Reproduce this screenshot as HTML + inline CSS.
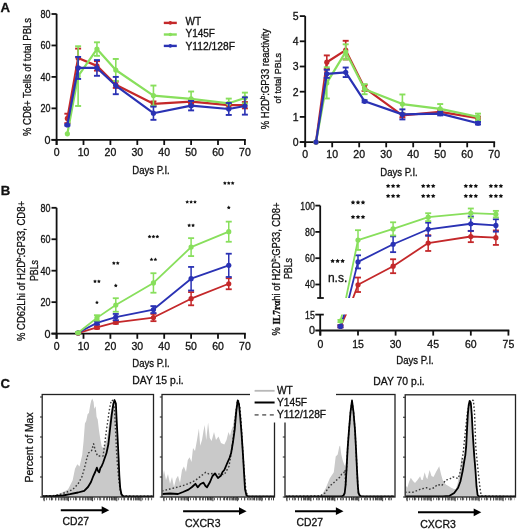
<!DOCTYPE html>
<html><head><meta charset="utf-8"><style>
html,body{margin:0;padding:0;background:#fff;overflow:hidden}
svg{display:block;will-change:transform}
text{font-family:"Liberation Sans", sans-serif;stroke:#111;stroke-width:0.3px}
</style></head><body>
<svg width="520" height="531" viewBox="0 0 520 531">
<rect width="520" height="531" fill="#fff"/>
<text x="0.6" y="12.1" font-size="13.2" text-anchor="start" font-weight="bold" fill="#111" style='font-family:"Liberation Sans", sans-serif'>A</text>
<text x="0.8" y="194.9" font-size="13.2" text-anchor="start" font-weight="bold" fill="#111" style='font-family:"Liberation Sans", sans-serif'>B</text>
<text x="0.6" y="388.1" font-size="13.2" text-anchor="start" font-weight="bold" fill="#111" style='font-family:"Liberation Sans", sans-serif'>C</text>
<line x1="56.60" y1="13.80" x2="56.60" y2="145.00" stroke="#111" stroke-width="1.8" />
<line x1="51.50" y1="139.80" x2="245.80" y2="139.80" stroke="#111" stroke-width="1.8" />
<line x1="51.50" y1="139.80" x2="56.60" y2="139.80" stroke="#111" stroke-width="1.8" />
<text x="50.6" y="143.70000000000002" font-size="10.8" text-anchor="end" font-weight="normal" fill="#111" style='font-family:"Liberation Sans", sans-serif'>0</text>
<line x1="51.50" y1="108.35" x2="56.60" y2="108.35" stroke="#111" stroke-width="1.8" />
<text x="50.6" y="112.25000000000001" font-size="10.8" text-anchor="end" font-weight="normal" fill="#111" textLength="10.0" lengthAdjust="spacingAndGlyphs" style='font-family:"Liberation Sans", sans-serif'>20</text>
<line x1="51.50" y1="76.90" x2="56.60" y2="76.90" stroke="#111" stroke-width="1.8" />
<text x="50.6" y="80.80000000000001" font-size="10.8" text-anchor="end" font-weight="normal" fill="#111" textLength="10.0" lengthAdjust="spacingAndGlyphs" style='font-family:"Liberation Sans", sans-serif'>40</text>
<line x1="51.50" y1="45.45" x2="56.60" y2="45.45" stroke="#111" stroke-width="1.8" />
<text x="50.6" y="49.350000000000016" font-size="10.8" text-anchor="end" font-weight="normal" fill="#111" textLength="10.0" lengthAdjust="spacingAndGlyphs" style='font-family:"Liberation Sans", sans-serif'>60</text>
<line x1="51.50" y1="14.00" x2="56.60" y2="14.00" stroke="#111" stroke-width="1.8" />
<text x="50.6" y="17.900000000000013" font-size="10.8" text-anchor="end" font-weight="normal" fill="#111" textLength="10.0" lengthAdjust="spacingAndGlyphs" style='font-family:"Liberation Sans", sans-serif'>80</text>
<line x1="56.60" y1="139.80" x2="56.60" y2="145.00" stroke="#111" stroke-width="1.8" />
<text x="56.6" y="156.2" font-size="10.5" text-anchor="middle" font-weight="normal" fill="#111" style='font-family:"Liberation Sans", sans-serif'>0</text>
<line x1="83.50" y1="139.80" x2="83.50" y2="145.00" stroke="#111" stroke-width="1.8" />
<text x="83.5" y="156.2" font-size="10.5" text-anchor="middle" font-weight="normal" fill="#111" style='font-family:"Liberation Sans", sans-serif'>10</text>
<line x1="110.40" y1="139.80" x2="110.40" y2="145.00" stroke="#111" stroke-width="1.8" />
<text x="110.4" y="156.2" font-size="10.5" text-anchor="middle" font-weight="normal" fill="#111" style='font-family:"Liberation Sans", sans-serif'>20</text>
<line x1="137.30" y1="139.80" x2="137.30" y2="145.00" stroke="#111" stroke-width="1.8" />
<text x="137.3" y="156.2" font-size="10.5" text-anchor="middle" font-weight="normal" fill="#111" style='font-family:"Liberation Sans", sans-serif'>30</text>
<line x1="164.20" y1="139.80" x2="164.20" y2="145.00" stroke="#111" stroke-width="1.8" />
<text x="164.2" y="156.2" font-size="10.5" text-anchor="middle" font-weight="normal" fill="#111" style='font-family:"Liberation Sans", sans-serif'>40</text>
<line x1="191.10" y1="139.80" x2="191.10" y2="145.00" stroke="#111" stroke-width="1.8" />
<text x="191.1" y="156.2" font-size="10.5" text-anchor="middle" font-weight="normal" fill="#111" style='font-family:"Liberation Sans", sans-serif'>50</text>
<line x1="218.00" y1="139.80" x2="218.00" y2="145.00" stroke="#111" stroke-width="1.8" />
<text x="218.0" y="156.2" font-size="10.5" text-anchor="middle" font-weight="normal" fill="#111" style='font-family:"Liberation Sans", sans-serif'>60</text>
<line x1="244.90" y1="139.80" x2="244.90" y2="145.00" stroke="#111" stroke-width="1.8" />
<text x="244.89999999999998" y="156.2" font-size="10.5" text-anchor="middle" font-weight="normal" fill="#111" style='font-family:"Liberation Sans", sans-serif'>70</text>
<text x="151" y="173.6" font-size="10" text-anchor="middle" font-weight="normal" fill="#111" textLength="37.5" lengthAdjust="spacingAndGlyphs" style='font-family:"Liberation Sans", sans-serif'>Days P.I.</text>
<text x="30.5" y="77" font-size="10" text-anchor="middle" font-weight="normal" fill="#111" transform="rotate(-90 30.5 77)" textLength="118" lengthAdjust="spacingAndGlyphs" style='font-family:"Liberation Sans", sans-serif'>% CD8+ Tcells of total PBLs</text>
<line x1="163.80" y1="22.90" x2="176.80" y2="22.90" stroke="#c4282a" stroke-width="2.4" />
<circle cx="170.3" cy="22.9" r="1.8" fill="#c4282a"/>
<text x="185.5" y="24.8" font-size="10" text-anchor="start" font-weight="normal" fill="#111" style='font-family:"Liberation Sans", sans-serif'>WT</text>
<line x1="163.80" y1="34.50" x2="176.80" y2="34.50" stroke="#88df5c" stroke-width="2.4" />
<circle cx="170.3" cy="34.5" r="1.8" fill="#88df5c"/>
<text x="185.5" y="37.2" font-size="10" text-anchor="start" font-weight="normal" fill="#111" style='font-family:"Liberation Sans", sans-serif'>Y145F</text>
<line x1="163.80" y1="45.90" x2="176.80" y2="45.90" stroke="#2a32b4" stroke-width="2.4" />
<circle cx="170.3" cy="45.9" r="1.8" fill="#2a32b4"/>
<text x="185.5" y="49.5" font-size="10" text-anchor="start" font-weight="normal" fill="#111" textLength="49.5" lengthAdjust="spacingAndGlyphs" style='font-family:"Liberation Sans", sans-serif'>Y112/128F</text>
<g>
<polyline points="67.36,118.41 78.12,58.03 96.95,65.89 115.78,84.76 153.44,103.79 191.10,101.59 228.76,105.21 244.90,105.21" fill="none" stroke="#c4282a" stroke-width="2.2" stroke-linejoin="round" />
<line x1="67.36" y1="113.70" x2="67.36" y2="123.13" stroke="#c4282a" stroke-width="1.6" />
<line x1="64.36" y1="113.70" x2="70.36" y2="113.70" stroke="#c4282a" stroke-width="1.9000000000000001" />
<line x1="64.36" y1="123.13" x2="70.36" y2="123.13" stroke="#c4282a" stroke-width="1.9000000000000001" />
<circle cx="67.36" cy="118.41" r="2.6" fill="#c4282a"/>
<line x1="78.12" y1="48.60" x2="78.12" y2="67.47" stroke="#c4282a" stroke-width="1.6" />
<line x1="75.12" y1="48.60" x2="81.12" y2="48.60" stroke="#c4282a" stroke-width="1.9000000000000001" />
<line x1="75.12" y1="67.47" x2="81.12" y2="67.47" stroke="#c4282a" stroke-width="1.9000000000000001" />
<circle cx="78.12" cy="58.03" r="2.6" fill="#c4282a"/>
<line x1="96.95" y1="61.18" x2="96.95" y2="70.61" stroke="#c4282a" stroke-width="1.6" />
<line x1="93.95" y1="61.18" x2="99.95" y2="61.18" stroke="#c4282a" stroke-width="1.9000000000000001" />
<line x1="93.95" y1="70.61" x2="99.95" y2="70.61" stroke="#c4282a" stroke-width="1.9000000000000001" />
<circle cx="96.95" cy="65.89" r="2.6" fill="#c4282a"/>
<line x1="115.78" y1="81.62" x2="115.78" y2="87.91" stroke="#c4282a" stroke-width="1.6" />
<line x1="112.78" y1="81.62" x2="118.78" y2="81.62" stroke="#c4282a" stroke-width="1.9000000000000001" />
<line x1="112.78" y1="87.91" x2="118.78" y2="87.91" stroke="#c4282a" stroke-width="1.9000000000000001" />
<circle cx="115.78" cy="84.76" r="2.6" fill="#c4282a"/>
<line x1="153.44" y1="101.43" x2="153.44" y2="106.15" stroke="#c4282a" stroke-width="1.6" />
<line x1="150.44" y1="101.43" x2="156.44" y2="101.43" stroke="#c4282a" stroke-width="1.9000000000000001" />
<line x1="150.44" y1="106.15" x2="156.44" y2="106.15" stroke="#c4282a" stroke-width="1.9000000000000001" />
<circle cx="153.44" cy="103.79" r="2.6" fill="#c4282a"/>
<line x1="191.10" y1="99.23" x2="191.10" y2="103.95" stroke="#c4282a" stroke-width="1.6" />
<line x1="188.10" y1="99.23" x2="194.10" y2="99.23" stroke="#c4282a" stroke-width="1.9000000000000001" />
<line x1="188.10" y1="103.95" x2="194.10" y2="103.95" stroke="#c4282a" stroke-width="1.9000000000000001" />
<circle cx="191.10" cy="101.59" r="2.6" fill="#c4282a"/>
<line x1="228.76" y1="102.85" x2="228.76" y2="107.56" stroke="#c4282a" stroke-width="1.6" />
<line x1="225.76" y1="102.85" x2="231.76" y2="102.85" stroke="#c4282a" stroke-width="1.9000000000000001" />
<line x1="225.76" y1="107.56" x2="231.76" y2="107.56" stroke="#c4282a" stroke-width="1.9000000000000001" />
<circle cx="228.76" cy="105.21" r="2.6" fill="#c4282a"/>
<line x1="244.90" y1="102.06" x2="244.90" y2="108.35" stroke="#c4282a" stroke-width="1.6" />
<line x1="241.90" y1="102.06" x2="247.90" y2="102.06" stroke="#c4282a" stroke-width="1.9000000000000001" />
<line x1="241.90" y1="108.35" x2="247.90" y2="108.35" stroke="#c4282a" stroke-width="1.9000000000000001" />
<circle cx="244.90" cy="105.21" r="2.6" fill="#c4282a"/>
</g>
<g>
<polyline points="67.36,133.82 78.12,76.11 96.95,49.07 115.78,69.98 153.44,95.61 191.10,98.92 228.76,103.32 244.90,97.97" fill="none" stroke="#88df5c" stroke-width="2.2" stroke-linejoin="round" />
<circle cx="67.36" cy="133.82" r="2.6" fill="#88df5c"/>
<line x1="78.12" y1="46.24" x2="78.12" y2="105.99" stroke="#88df5c" stroke-width="1.6" />
<line x1="75.12" y1="46.24" x2="81.12" y2="46.24" stroke="#88df5c" stroke-width="1.9000000000000001" />
<line x1="75.12" y1="105.99" x2="81.12" y2="105.99" stroke="#88df5c" stroke-width="1.9000000000000001" />
<circle cx="78.12" cy="76.11" r="2.6" fill="#88df5c"/>
<line x1="96.95" y1="42.31" x2="96.95" y2="55.83" stroke="#88df5c" stroke-width="1.6" />
<line x1="93.95" y1="42.31" x2="99.95" y2="42.31" stroke="#88df5c" stroke-width="1.9000000000000001" />
<line x1="93.95" y1="55.83" x2="99.95" y2="55.83" stroke="#88df5c" stroke-width="1.9000000000000001" />
<circle cx="96.95" cy="49.07" r="2.6" fill="#88df5c"/>
<line x1="115.78" y1="58.97" x2="115.78" y2="80.99" stroke="#88df5c" stroke-width="1.6" />
<line x1="112.78" y1="58.97" x2="118.78" y2="58.97" stroke="#88df5c" stroke-width="1.9000000000000001" />
<line x1="112.78" y1="80.99" x2="118.78" y2="80.99" stroke="#88df5c" stroke-width="1.9000000000000001" />
<circle cx="115.78" cy="69.98" r="2.6" fill="#88df5c"/>
<line x1="153.44" y1="85.55" x2="153.44" y2="105.68" stroke="#88df5c" stroke-width="1.6" />
<line x1="150.44" y1="85.55" x2="156.44" y2="85.55" stroke="#88df5c" stroke-width="1.9000000000000001" />
<line x1="150.44" y1="105.68" x2="156.44" y2="105.68" stroke="#88df5c" stroke-width="1.9000000000000001" />
<circle cx="153.44" cy="95.61" r="2.6" fill="#88df5c"/>
<line x1="191.10" y1="91.52" x2="191.10" y2="106.31" stroke="#88df5c" stroke-width="1.6" />
<line x1="188.10" y1="91.52" x2="194.10" y2="91.52" stroke="#88df5c" stroke-width="1.9000000000000001" />
<line x1="188.10" y1="106.31" x2="194.10" y2="106.31" stroke="#88df5c" stroke-width="1.9000000000000001" />
<circle cx="191.10" cy="98.92" r="2.6" fill="#88df5c"/>
<line x1="228.76" y1="98.60" x2="228.76" y2="108.04" stroke="#88df5c" stroke-width="1.6" />
<line x1="225.76" y1="98.60" x2="231.76" y2="98.60" stroke="#88df5c" stroke-width="1.9000000000000001" />
<line x1="225.76" y1="108.04" x2="231.76" y2="108.04" stroke="#88df5c" stroke-width="1.9000000000000001" />
<circle cx="228.76" cy="103.32" r="2.6" fill="#88df5c"/>
<line x1="244.90" y1="92.63" x2="244.90" y2="103.32" stroke="#88df5c" stroke-width="1.6" />
<line x1="241.90" y1="92.63" x2="247.90" y2="92.63" stroke="#88df5c" stroke-width="1.9000000000000001" />
<line x1="241.90" y1="103.32" x2="247.90" y2="103.32" stroke="#88df5c" stroke-width="1.9000000000000001" />
<circle cx="244.90" cy="97.97" r="2.6" fill="#88df5c"/>
</g>
<g>
<polyline points="67.36,125.02 78.12,67.94 96.95,67.94 115.78,85.55 153.44,113.22 191.10,105.68 228.76,108.98 244.90,105.99" fill="none" stroke="#2a32b4" stroke-width="2.2" stroke-linejoin="round" />
<line x1="67.36" y1="124.39" x2="67.36" y2="125.65" stroke="#2a32b4" stroke-width="1.6" />
<line x1="64.36" y1="124.39" x2="70.36" y2="124.39" stroke="#2a32b4" stroke-width="1.9000000000000001" />
<line x1="64.36" y1="125.65" x2="70.36" y2="125.65" stroke="#2a32b4" stroke-width="1.9000000000000001" />
<circle cx="67.36" cy="125.02" r="2.6" fill="#2a32b4"/>
<line x1="78.12" y1="56.93" x2="78.12" y2="78.94" stroke="#2a32b4" stroke-width="1.6" />
<line x1="75.12" y1="56.93" x2="81.12" y2="56.93" stroke="#2a32b4" stroke-width="1.9000000000000001" />
<line x1="75.12" y1="78.94" x2="81.12" y2="78.94" stroke="#2a32b4" stroke-width="1.9000000000000001" />
<circle cx="78.12" cy="67.94" r="2.6" fill="#2a32b4"/>
<line x1="96.95" y1="60.07" x2="96.95" y2="75.80" stroke="#2a32b4" stroke-width="1.6" />
<line x1="93.95" y1="60.07" x2="99.95" y2="60.07" stroke="#2a32b4" stroke-width="1.9000000000000001" />
<line x1="93.95" y1="75.80" x2="99.95" y2="75.80" stroke="#2a32b4" stroke-width="1.9000000000000001" />
<circle cx="96.95" cy="67.94" r="2.6" fill="#2a32b4"/>
<line x1="115.78" y1="76.90" x2="115.78" y2="94.20" stroke="#2a32b4" stroke-width="1.6" />
<line x1="112.78" y1="76.90" x2="118.78" y2="76.90" stroke="#2a32b4" stroke-width="1.9000000000000001" />
<line x1="112.78" y1="94.20" x2="118.78" y2="94.20" stroke="#2a32b4" stroke-width="1.9000000000000001" />
<circle cx="115.78" cy="85.55" r="2.6" fill="#2a32b4"/>
<line x1="153.44" y1="106.62" x2="153.44" y2="119.83" stroke="#2a32b4" stroke-width="1.6" />
<line x1="150.44" y1="106.62" x2="156.44" y2="106.62" stroke="#2a32b4" stroke-width="1.9000000000000001" />
<line x1="150.44" y1="119.83" x2="156.44" y2="119.83" stroke="#2a32b4" stroke-width="1.9000000000000001" />
<circle cx="153.44" cy="113.22" r="2.6" fill="#2a32b4"/>
<line x1="191.10" y1="100.96" x2="191.10" y2="110.39" stroke="#2a32b4" stroke-width="1.6" />
<line x1="188.10" y1="100.96" x2="194.10" y2="100.96" stroke="#2a32b4" stroke-width="1.9000000000000001" />
<line x1="188.10" y1="110.39" x2="194.10" y2="110.39" stroke="#2a32b4" stroke-width="1.9000000000000001" />
<circle cx="191.10" cy="105.68" r="2.6" fill="#2a32b4"/>
<line x1="228.76" y1="103.00" x2="228.76" y2="114.95" stroke="#2a32b4" stroke-width="1.6" />
<line x1="225.76" y1="103.00" x2="231.76" y2="103.00" stroke="#2a32b4" stroke-width="1.9000000000000001" />
<line x1="225.76" y1="114.95" x2="231.76" y2="114.95" stroke="#2a32b4" stroke-width="1.9000000000000001" />
<circle cx="228.76" cy="108.98" r="2.6" fill="#2a32b4"/>
<line x1="244.90" y1="97.34" x2="244.90" y2="114.64" stroke="#2a32b4" stroke-width="1.6" />
<line x1="241.90" y1="97.34" x2="247.90" y2="97.34" stroke="#2a32b4" stroke-width="1.9000000000000001" />
<line x1="241.90" y1="114.64" x2="247.90" y2="114.64" stroke="#2a32b4" stroke-width="1.9000000000000001" />
<circle cx="244.90" cy="105.99" r="2.6" fill="#2a32b4"/>
</g>
<line x1="305.20" y1="16.10" x2="305.20" y2="147.00" stroke="#111" stroke-width="1.8" />
<line x1="299.80" y1="142.10" x2="495.10" y2="142.10" stroke="#111" stroke-width="1.8" />
<line x1="299.80" y1="142.10" x2="305.20" y2="142.10" stroke="#111" stroke-width="1.8" />
<text x="298.6" y="146.0" font-size="10.5" text-anchor="end" font-weight="normal" fill="#111" style='font-family:"Liberation Sans", sans-serif'>0</text>
<line x1="299.80" y1="116.90" x2="305.20" y2="116.90" stroke="#111" stroke-width="1.8" />
<text x="298.6" y="120.8" font-size="10.5" text-anchor="end" font-weight="normal" fill="#111" style='font-family:"Liberation Sans", sans-serif'>1</text>
<line x1="299.80" y1="91.70" x2="305.20" y2="91.70" stroke="#111" stroke-width="1.8" />
<text x="298.6" y="95.6" font-size="10.5" text-anchor="end" font-weight="normal" fill="#111" style='font-family:"Liberation Sans", sans-serif'>2</text>
<line x1="299.80" y1="66.50" x2="305.20" y2="66.50" stroke="#111" stroke-width="1.8" />
<text x="298.6" y="70.4" font-size="10.5" text-anchor="end" font-weight="normal" fill="#111" style='font-family:"Liberation Sans", sans-serif'>3</text>
<line x1="299.80" y1="41.30" x2="305.20" y2="41.30" stroke="#111" stroke-width="1.8" />
<text x="298.6" y="45.199999999999996" font-size="10.5" text-anchor="end" font-weight="normal" fill="#111" style='font-family:"Liberation Sans", sans-serif'>4</text>
<line x1="299.80" y1="16.10" x2="305.20" y2="16.10" stroke="#111" stroke-width="1.8" />
<text x="298.6" y="19.999999999999993" font-size="10.5" text-anchor="end" font-weight="normal" fill="#111" style='font-family:"Liberation Sans", sans-serif'>5</text>
<line x1="305.20" y1="142.10" x2="305.20" y2="147.30" stroke="#111" stroke-width="1.8" />
<text x="305.2" y="157.6" font-size="10.5" text-anchor="middle" font-weight="normal" fill="#111" style='font-family:"Liberation Sans", sans-serif'>0</text>
<line x1="332.20" y1="142.10" x2="332.20" y2="147.30" stroke="#111" stroke-width="1.8" />
<text x="332.2" y="157.6" font-size="10.5" text-anchor="middle" font-weight="normal" fill="#111" style='font-family:"Liberation Sans", sans-serif'>10</text>
<line x1="359.20" y1="142.10" x2="359.20" y2="147.30" stroke="#111" stroke-width="1.8" />
<text x="359.2" y="157.6" font-size="10.5" text-anchor="middle" font-weight="normal" fill="#111" style='font-family:"Liberation Sans", sans-serif'>20</text>
<line x1="386.20" y1="142.10" x2="386.20" y2="147.30" stroke="#111" stroke-width="1.8" />
<text x="386.2" y="157.6" font-size="10.5" text-anchor="middle" font-weight="normal" fill="#111" style='font-family:"Liberation Sans", sans-serif'>30</text>
<line x1="413.20" y1="142.10" x2="413.20" y2="147.30" stroke="#111" stroke-width="1.8" />
<text x="413.2" y="157.6" font-size="10.5" text-anchor="middle" font-weight="normal" fill="#111" style='font-family:"Liberation Sans", sans-serif'>40</text>
<line x1="440.20" y1="142.10" x2="440.20" y2="147.30" stroke="#111" stroke-width="1.8" />
<text x="440.2" y="157.6" font-size="10.5" text-anchor="middle" font-weight="normal" fill="#111" style='font-family:"Liberation Sans", sans-serif'>50</text>
<line x1="467.20" y1="142.10" x2="467.20" y2="147.30" stroke="#111" stroke-width="1.8" />
<text x="467.2" y="157.6" font-size="10.5" text-anchor="middle" font-weight="normal" fill="#111" style='font-family:"Liberation Sans", sans-serif'>60</text>
<line x1="494.20" y1="142.10" x2="494.20" y2="147.30" stroke="#111" stroke-width="1.8" />
<text x="494.2" y="157.6" font-size="10.5" text-anchor="middle" font-weight="normal" fill="#111" style='font-family:"Liberation Sans", sans-serif'>70</text>
<text x="399" y="175.6" font-size="10" text-anchor="middle" font-weight="normal" fill="#111" textLength="37.5" lengthAdjust="spacingAndGlyphs" style='font-family:"Liberation Sans", sans-serif'>Days P.I.</text>
<text x="269.4" y="79" font-size="10" text-anchor="middle" fill="#111" transform="rotate(-90 269.4 79)" textLength="100.5" lengthAdjust="spacingAndGlyphs" style='font-family:"Liberation Sans", sans-serif'>% H2D<tspan font-size="6.5" dy="-4">b</tspan><tspan dy="4">:GP33 reactivity</tspan></text>
<text x="281" y="78.2" font-size="9.6" text-anchor="middle" font-weight="normal" fill="#111" transform="rotate(-90 281 78.2)" textLength="50.5" lengthAdjust="spacingAndGlyphs" style='font-family:"Liberation Sans", sans-serif'>of total PBLs</text>
<g>
<polyline points="316.00,142.10 326.80,62.22 345.70,50.12 364.60,87.92 402.40,115.39 440.20,111.86 478.00,118.16" fill="none" stroke="#c4282a" stroke-width="2.2" stroke-linejoin="round" />
<circle cx="316.00" cy="142.10" r="2.6" fill="#c4282a"/>
<line x1="326.80" y1="55.41" x2="326.80" y2="69.02" stroke="#c4282a" stroke-width="1.6" />
<line x1="323.80" y1="55.41" x2="329.80" y2="55.41" stroke="#c4282a" stroke-width="1.9000000000000001" />
<line x1="323.80" y1="69.02" x2="329.80" y2="69.02" stroke="#c4282a" stroke-width="1.9000000000000001" />
<circle cx="326.80" cy="62.22" r="2.6" fill="#c4282a"/>
<line x1="345.70" y1="40.80" x2="345.70" y2="59.44" stroke="#c4282a" stroke-width="1.6" />
<line x1="342.70" y1="40.80" x2="348.70" y2="40.80" stroke="#c4282a" stroke-width="1.9000000000000001" />
<line x1="342.70" y1="59.44" x2="348.70" y2="59.44" stroke="#c4282a" stroke-width="1.9000000000000001" />
<circle cx="345.70" cy="50.12" r="2.6" fill="#c4282a"/>
<line x1="364.60" y1="84.90" x2="364.60" y2="90.94" stroke="#c4282a" stroke-width="1.6" />
<line x1="361.60" y1="84.90" x2="367.60" y2="84.90" stroke="#c4282a" stroke-width="1.9000000000000001" />
<line x1="361.60" y1="90.94" x2="367.60" y2="90.94" stroke="#c4282a" stroke-width="1.9000000000000001" />
<circle cx="364.60" cy="87.92" r="2.6" fill="#c4282a"/>
<line x1="402.40" y1="113.37" x2="402.40" y2="117.40" stroke="#c4282a" stroke-width="1.6" />
<line x1="399.40" y1="113.37" x2="405.40" y2="113.37" stroke="#c4282a" stroke-width="1.9000000000000001" />
<line x1="399.40" y1="117.40" x2="405.40" y2="117.40" stroke="#c4282a" stroke-width="1.9000000000000001" />
<circle cx="402.40" cy="115.39" r="2.6" fill="#c4282a"/>
<line x1="440.20" y1="109.84" x2="440.20" y2="113.88" stroke="#c4282a" stroke-width="1.6" />
<line x1="437.20" y1="109.84" x2="443.20" y2="109.84" stroke="#c4282a" stroke-width="1.9000000000000001" />
<line x1="437.20" y1="113.88" x2="443.20" y2="113.88" stroke="#c4282a" stroke-width="1.9000000000000001" />
<circle cx="440.20" cy="111.86" r="2.6" fill="#c4282a"/>
<line x1="478.00" y1="116.65" x2="478.00" y2="119.67" stroke="#c4282a" stroke-width="1.6" />
<line x1="475.00" y1="116.65" x2="481.00" y2="116.65" stroke="#c4282a" stroke-width="1.9000000000000001" />
<line x1="475.00" y1="119.67" x2="481.00" y2="119.67" stroke="#c4282a" stroke-width="1.9000000000000001" />
<circle cx="478.00" cy="118.16" r="2.6" fill="#c4282a"/>
</g>
<g>
<polyline points="316.00,142.10 326.80,82.88 345.70,51.88 364.60,89.18 402.40,104.05 440.20,108.84 478.00,116.90" fill="none" stroke="#88df5c" stroke-width="2.2" stroke-linejoin="round" />
<circle cx="316.00" cy="142.10" r="2.6" fill="#88df5c"/>
<line x1="326.80" y1="67.26" x2="326.80" y2="98.50" stroke="#88df5c" stroke-width="1.6" />
<line x1="323.80" y1="67.26" x2="329.80" y2="67.26" stroke="#88df5c" stroke-width="1.9000000000000001" />
<line x1="323.80" y1="98.50" x2="329.80" y2="98.50" stroke="#88df5c" stroke-width="1.9000000000000001" />
<circle cx="326.80" cy="82.88" r="2.6" fill="#88df5c"/>
<line x1="345.70" y1="44.32" x2="345.70" y2="59.44" stroke="#88df5c" stroke-width="1.6" />
<line x1="342.70" y1="44.32" x2="348.70" y2="44.32" stroke="#88df5c" stroke-width="1.9000000000000001" />
<line x1="342.70" y1="59.44" x2="348.70" y2="59.44" stroke="#88df5c" stroke-width="1.9000000000000001" />
<circle cx="345.70" cy="51.88" r="2.6" fill="#88df5c"/>
<line x1="364.60" y1="84.14" x2="364.60" y2="94.22" stroke="#88df5c" stroke-width="1.6" />
<line x1="361.60" y1="84.14" x2="367.60" y2="84.14" stroke="#88df5c" stroke-width="1.9000000000000001" />
<line x1="361.60" y1="94.22" x2="367.60" y2="94.22" stroke="#88df5c" stroke-width="1.9000000000000001" />
<circle cx="364.60" cy="89.18" r="2.6" fill="#88df5c"/>
<line x1="402.40" y1="94.47" x2="402.40" y2="113.62" stroke="#88df5c" stroke-width="1.6" />
<line x1="399.40" y1="94.47" x2="405.40" y2="94.47" stroke="#88df5c" stroke-width="1.9000000000000001" />
<line x1="399.40" y1="113.62" x2="405.40" y2="113.62" stroke="#88df5c" stroke-width="1.9000000000000001" />
<circle cx="402.40" cy="104.05" r="2.6" fill="#88df5c"/>
<line x1="440.20" y1="104.05" x2="440.20" y2="113.62" stroke="#88df5c" stroke-width="1.6" />
<line x1="437.20" y1="104.05" x2="443.20" y2="104.05" stroke="#88df5c" stroke-width="1.9000000000000001" />
<line x1="437.20" y1="113.62" x2="443.20" y2="113.62" stroke="#88df5c" stroke-width="1.9000000000000001" />
<circle cx="440.20" cy="108.84" r="2.6" fill="#88df5c"/>
<line x1="478.00" y1="113.62" x2="478.00" y2="120.18" stroke="#88df5c" stroke-width="1.6" />
<line x1="475.00" y1="113.62" x2="481.00" y2="113.62" stroke="#88df5c" stroke-width="1.9000000000000001" />
<line x1="475.00" y1="120.18" x2="481.00" y2="120.18" stroke="#88df5c" stroke-width="1.9000000000000001" />
<circle cx="478.00" cy="116.90" r="2.6" fill="#88df5c"/>
</g>
<g>
<polyline points="316.00,142.10 326.80,73.81 345.70,72.30 364.60,101.28 402.40,114.38 440.20,113.62 478.00,123.20" fill="none" stroke="#2a32b4" stroke-width="2.2" stroke-linejoin="round" />
<circle cx="316.00" cy="142.10" r="2.6" fill="#2a32b4"/>
<line x1="326.80" y1="69.78" x2="326.80" y2="77.84" stroke="#2a32b4" stroke-width="1.6" />
<line x1="323.80" y1="69.78" x2="329.80" y2="69.78" stroke="#2a32b4" stroke-width="1.9000000000000001" />
<line x1="323.80" y1="77.84" x2="329.80" y2="77.84" stroke="#2a32b4" stroke-width="1.9000000000000001" />
<circle cx="326.80" cy="73.81" r="2.6" fill="#2a32b4"/>
<line x1="345.70" y1="67.51" x2="345.70" y2="77.08" stroke="#2a32b4" stroke-width="1.6" />
<line x1="342.70" y1="67.51" x2="348.70" y2="67.51" stroke="#2a32b4" stroke-width="1.9000000000000001" />
<line x1="342.70" y1="77.08" x2="348.70" y2="77.08" stroke="#2a32b4" stroke-width="1.9000000000000001" />
<circle cx="345.70" cy="72.30" r="2.6" fill="#2a32b4"/>
<line x1="364.60" y1="100.27" x2="364.60" y2="102.28" stroke="#2a32b4" stroke-width="1.6" />
<line x1="361.60" y1="100.27" x2="367.60" y2="100.27" stroke="#2a32b4" stroke-width="1.9000000000000001" />
<line x1="361.60" y1="102.28" x2="367.60" y2="102.28" stroke="#2a32b4" stroke-width="1.9000000000000001" />
<circle cx="364.60" cy="101.28" r="2.6" fill="#2a32b4"/>
<line x1="402.40" y1="109.34" x2="402.40" y2="119.42" stroke="#2a32b4" stroke-width="1.6" />
<line x1="399.40" y1="109.34" x2="405.40" y2="109.34" stroke="#2a32b4" stroke-width="1.9000000000000001" />
<line x1="399.40" y1="119.42" x2="405.40" y2="119.42" stroke="#2a32b4" stroke-width="1.9000000000000001" />
<circle cx="402.40" cy="114.38" r="2.6" fill="#2a32b4"/>
<line x1="440.20" y1="111.86" x2="440.20" y2="115.39" stroke="#2a32b4" stroke-width="1.6" />
<line x1="437.20" y1="111.86" x2="443.20" y2="111.86" stroke="#2a32b4" stroke-width="1.9000000000000001" />
<line x1="437.20" y1="115.39" x2="443.20" y2="115.39" stroke="#2a32b4" stroke-width="1.9000000000000001" />
<circle cx="440.20" cy="113.62" r="2.6" fill="#2a32b4"/>
<line x1="478.00" y1="121.94" x2="478.00" y2="124.46" stroke="#2a32b4" stroke-width="1.6" />
<line x1="475.00" y1="121.94" x2="481.00" y2="121.94" stroke="#2a32b4" stroke-width="1.9000000000000001" />
<line x1="475.00" y1="124.46" x2="481.00" y2="124.46" stroke="#2a32b4" stroke-width="1.9000000000000001" />
<circle cx="478.00" cy="123.20" r="2.6" fill="#2a32b4"/>
</g>
<line x1="56.60" y1="207.80" x2="56.60" y2="338.80" stroke="#111" stroke-width="1.8" />
<line x1="51.50" y1="333.60" x2="245.80" y2="333.60" stroke="#111" stroke-width="1.8" />
<line x1="51.50" y1="333.60" x2="56.60" y2="333.60" stroke="#111" stroke-width="1.8" />
<text x="50.6" y="337.5" font-size="10.8" text-anchor="end" font-weight="normal" fill="#111" style='font-family:"Liberation Sans", sans-serif'>0</text>
<line x1="51.50" y1="302.15" x2="56.60" y2="302.15" stroke="#111" stroke-width="1.8" />
<text x="50.6" y="306.05" font-size="10.8" text-anchor="end" font-weight="normal" fill="#111" textLength="10.0" lengthAdjust="spacingAndGlyphs" style='font-family:"Liberation Sans", sans-serif'>20</text>
<line x1="51.50" y1="270.70" x2="56.60" y2="270.70" stroke="#111" stroke-width="1.8" />
<text x="50.6" y="274.6" font-size="10.8" text-anchor="end" font-weight="normal" fill="#111" textLength="10.0" lengthAdjust="spacingAndGlyphs" style='font-family:"Liberation Sans", sans-serif'>40</text>
<line x1="51.50" y1="239.25" x2="56.60" y2="239.25" stroke="#111" stroke-width="1.8" />
<text x="50.6" y="243.15000000000003" font-size="10.8" text-anchor="end" font-weight="normal" fill="#111" textLength="10.0" lengthAdjust="spacingAndGlyphs" style='font-family:"Liberation Sans", sans-serif'>60</text>
<line x1="51.50" y1="207.80" x2="56.60" y2="207.80" stroke="#111" stroke-width="1.8" />
<text x="50.6" y="211.70000000000002" font-size="10.8" text-anchor="end" font-weight="normal" fill="#111" textLength="10.0" lengthAdjust="spacingAndGlyphs" style='font-family:"Liberation Sans", sans-serif'>80</text>
<line x1="56.60" y1="333.60" x2="56.60" y2="338.80" stroke="#111" stroke-width="1.8" />
<text x="56.6" y="349.8" font-size="10.5" text-anchor="middle" font-weight="normal" fill="#111" style='font-family:"Liberation Sans", sans-serif'>0</text>
<line x1="83.50" y1="333.60" x2="83.50" y2="338.80" stroke="#111" stroke-width="1.8" />
<text x="83.5" y="349.8" font-size="10.5" text-anchor="middle" font-weight="normal" fill="#111" style='font-family:"Liberation Sans", sans-serif'>10</text>
<line x1="110.40" y1="333.60" x2="110.40" y2="338.80" stroke="#111" stroke-width="1.8" />
<text x="110.4" y="349.8" font-size="10.5" text-anchor="middle" font-weight="normal" fill="#111" style='font-family:"Liberation Sans", sans-serif'>20</text>
<line x1="137.30" y1="333.60" x2="137.30" y2="338.80" stroke="#111" stroke-width="1.8" />
<text x="137.3" y="349.8" font-size="10.5" text-anchor="middle" font-weight="normal" fill="#111" style='font-family:"Liberation Sans", sans-serif'>30</text>
<line x1="164.20" y1="333.60" x2="164.20" y2="338.80" stroke="#111" stroke-width="1.8" />
<text x="164.2" y="349.8" font-size="10.5" text-anchor="middle" font-weight="normal" fill="#111" style='font-family:"Liberation Sans", sans-serif'>40</text>
<line x1="191.10" y1="333.60" x2="191.10" y2="338.80" stroke="#111" stroke-width="1.8" />
<text x="191.1" y="349.8" font-size="10.5" text-anchor="middle" font-weight="normal" fill="#111" style='font-family:"Liberation Sans", sans-serif'>50</text>
<line x1="218.00" y1="333.60" x2="218.00" y2="338.80" stroke="#111" stroke-width="1.8" />
<text x="218.0" y="349.8" font-size="10.5" text-anchor="middle" font-weight="normal" fill="#111" style='font-family:"Liberation Sans", sans-serif'>60</text>
<line x1="244.90" y1="333.60" x2="244.90" y2="338.80" stroke="#111" stroke-width="1.8" />
<text x="244.89999999999998" y="349.8" font-size="10.5" text-anchor="middle" font-weight="normal" fill="#111" style='font-family:"Liberation Sans", sans-serif'>70</text>
<text x="151" y="367.4" font-size="10" text-anchor="middle" font-weight="normal" fill="#111" textLength="37.5" lengthAdjust="spacingAndGlyphs" style='font-family:"Liberation Sans", sans-serif'>Days P.I.</text>
<text x="24.5" y="271" font-size="10" text-anchor="middle" fill="#111" transform="rotate(-90 24.5 271)" textLength="140" lengthAdjust="spacingAndGlyphs" style='font-family:"Liberation Sans", sans-serif'>% CD62Lhi of H2D<tspan font-size="6.5" dy="-4">b</tspan><tspan dy="4">:GP33, CD8+</tspan></text>
<text x="37.5" y="270.5" font-size="10" text-anchor="middle" font-weight="normal" fill="#111" transform="rotate(-90 37.5 270.5)" textLength="21" lengthAdjust="spacingAndGlyphs" style='font-family:"Liberation Sans", sans-serif'>PBLs</text>
<g>
<polyline points="78.12,333.13 96.95,327.47 115.78,322.28 153.44,317.56 191.10,298.69 228.76,283.75" fill="none" stroke="#c4282a" stroke-width="1.8" stroke-linejoin="round" />
<line x1="78.12" y1="332.81" x2="78.12" y2="333.44" stroke="#c4282a" stroke-width="1.5" />
<line x1="75.12" y1="332.81" x2="81.12" y2="332.81" stroke="#c4282a" stroke-width="1.8" />
<line x1="75.12" y1="333.44" x2="81.12" y2="333.44" stroke="#c4282a" stroke-width="1.8" />
<circle cx="78.12" cy="333.13" r="2.6" fill="#c4282a"/>
<line x1="96.95" y1="326.21" x2="96.95" y2="328.73" stroke="#c4282a" stroke-width="1.5" />
<line x1="93.95" y1="326.21" x2="99.95" y2="326.21" stroke="#c4282a" stroke-width="1.8" />
<line x1="93.95" y1="328.73" x2="99.95" y2="328.73" stroke="#c4282a" stroke-width="1.8" />
<circle cx="96.95" cy="327.47" r="2.6" fill="#c4282a"/>
<line x1="115.78" y1="320.71" x2="115.78" y2="323.85" stroke="#c4282a" stroke-width="1.5" />
<line x1="112.78" y1="320.71" x2="118.78" y2="320.71" stroke="#c4282a" stroke-width="1.8" />
<line x1="112.78" y1="323.85" x2="118.78" y2="323.85" stroke="#c4282a" stroke-width="1.8" />
<circle cx="115.78" cy="322.28" r="2.6" fill="#c4282a"/>
<line x1="153.44" y1="313.94" x2="153.44" y2="321.18" stroke="#c4282a" stroke-width="1.5" />
<line x1="150.44" y1="313.94" x2="156.44" y2="313.94" stroke="#c4282a" stroke-width="1.8" />
<line x1="150.44" y1="321.18" x2="156.44" y2="321.18" stroke="#c4282a" stroke-width="1.8" />
<circle cx="153.44" cy="317.56" r="2.6" fill="#c4282a"/>
<line x1="191.10" y1="292.09" x2="191.10" y2="305.30" stroke="#c4282a" stroke-width="1.5" />
<line x1="188.10" y1="292.09" x2="194.10" y2="292.09" stroke="#c4282a" stroke-width="1.8" />
<line x1="188.10" y1="305.30" x2="194.10" y2="305.30" stroke="#c4282a" stroke-width="1.8" />
<circle cx="191.10" cy="298.69" r="2.6" fill="#c4282a"/>
<line x1="228.76" y1="278.25" x2="228.76" y2="289.26" stroke="#c4282a" stroke-width="1.5" />
<line x1="225.76" y1="278.25" x2="231.76" y2="278.25" stroke="#c4282a" stroke-width="1.8" />
<line x1="225.76" y1="289.26" x2="231.76" y2="289.26" stroke="#c4282a" stroke-width="1.8" />
<circle cx="228.76" cy="283.75" r="2.6" fill="#c4282a"/>
</g>
<g>
<polyline points="78.12,332.81 96.95,322.91 115.78,317.09 153.44,309.54 191.10,278.72 228.76,265.35" fill="none" stroke="#2a32b4" stroke-width="1.8" stroke-linejoin="round" />
<line x1="78.12" y1="332.34" x2="78.12" y2="333.29" stroke="#2a32b4" stroke-width="1.5" />
<line x1="75.12" y1="332.34" x2="81.12" y2="332.34" stroke="#2a32b4" stroke-width="1.8" />
<line x1="75.12" y1="333.29" x2="81.12" y2="333.29" stroke="#2a32b4" stroke-width="1.8" />
<circle cx="78.12" cy="332.81" r="2.6" fill="#2a32b4"/>
<line x1="96.95" y1="321.33" x2="96.95" y2="324.48" stroke="#2a32b4" stroke-width="1.5" />
<line x1="93.95" y1="321.33" x2="99.95" y2="321.33" stroke="#2a32b4" stroke-width="1.8" />
<line x1="93.95" y1="324.48" x2="99.95" y2="324.48" stroke="#2a32b4" stroke-width="1.8" />
<circle cx="96.95" cy="322.91" r="2.6" fill="#2a32b4"/>
<line x1="115.78" y1="313.94" x2="115.78" y2="320.23" stroke="#2a32b4" stroke-width="1.5" />
<line x1="112.78" y1="313.94" x2="118.78" y2="313.94" stroke="#2a32b4" stroke-width="1.8" />
<line x1="112.78" y1="320.23" x2="118.78" y2="320.23" stroke="#2a32b4" stroke-width="1.8" />
<circle cx="115.78" cy="317.09" r="2.6" fill="#2a32b4"/>
<line x1="153.44" y1="306.08" x2="153.44" y2="313.00" stroke="#2a32b4" stroke-width="1.5" />
<line x1="150.44" y1="306.08" x2="156.44" y2="306.08" stroke="#2a32b4" stroke-width="1.8" />
<line x1="150.44" y1="313.00" x2="156.44" y2="313.00" stroke="#2a32b4" stroke-width="1.8" />
<circle cx="153.44" cy="309.54" r="2.6" fill="#2a32b4"/>
<line x1="191.10" y1="266.93" x2="191.10" y2="290.51" stroke="#2a32b4" stroke-width="1.5" />
<line x1="188.10" y1="266.93" x2="194.10" y2="266.93" stroke="#2a32b4" stroke-width="1.8" />
<line x1="188.10" y1="290.51" x2="194.10" y2="290.51" stroke="#2a32b4" stroke-width="1.8" />
<circle cx="191.10" cy="278.72" r="2.6" fill="#2a32b4"/>
<line x1="228.76" y1="253.72" x2="228.76" y2="276.99" stroke="#2a32b4" stroke-width="1.5" />
<line x1="225.76" y1="253.72" x2="231.76" y2="253.72" stroke="#2a32b4" stroke-width="1.8" />
<line x1="225.76" y1="276.99" x2="231.76" y2="276.99" stroke="#2a32b4" stroke-width="1.8" />
<circle cx="228.76" cy="265.35" r="2.6" fill="#2a32b4"/>
</g>
<g>
<polyline points="78.12,332.81 96.95,317.88 115.78,304.98 153.44,282.97 191.10,247.11 228.76,231.70" fill="none" stroke="#88df5c" stroke-width="1.8" stroke-linejoin="round" />
<line x1="78.12" y1="332.03" x2="78.12" y2="333.60" stroke="#88df5c" stroke-width="1.5" />
<line x1="75.12" y1="332.03" x2="81.12" y2="332.03" stroke="#88df5c" stroke-width="1.8" />
<line x1="75.12" y1="333.60" x2="81.12" y2="333.60" stroke="#88df5c" stroke-width="1.8" />
<circle cx="78.12" cy="332.81" r="2.6" fill="#88df5c"/>
<line x1="96.95" y1="315.20" x2="96.95" y2="320.55" stroke="#88df5c" stroke-width="1.5" />
<line x1="93.95" y1="315.20" x2="99.95" y2="315.20" stroke="#88df5c" stroke-width="1.8" />
<line x1="93.95" y1="320.55" x2="99.95" y2="320.55" stroke="#88df5c" stroke-width="1.8" />
<circle cx="96.95" cy="317.88" r="2.6" fill="#88df5c"/>
<line x1="115.78" y1="298.22" x2="115.78" y2="311.74" stroke="#88df5c" stroke-width="1.5" />
<line x1="112.78" y1="298.22" x2="118.78" y2="298.22" stroke="#88df5c" stroke-width="1.8" />
<line x1="112.78" y1="311.74" x2="118.78" y2="311.74" stroke="#88df5c" stroke-width="1.8" />
<circle cx="115.78" cy="304.98" r="2.6" fill="#88df5c"/>
<line x1="153.44" y1="273.22" x2="153.44" y2="292.72" stroke="#88df5c" stroke-width="1.5" />
<line x1="150.44" y1="273.22" x2="156.44" y2="273.22" stroke="#88df5c" stroke-width="1.8" />
<line x1="150.44" y1="292.72" x2="156.44" y2="292.72" stroke="#88df5c" stroke-width="1.8" />
<circle cx="153.44" cy="282.97" r="2.6" fill="#88df5c"/>
<line x1="191.10" y1="238.15" x2="191.10" y2="256.08" stroke="#88df5c" stroke-width="1.5" />
<line x1="188.10" y1="238.15" x2="194.10" y2="238.15" stroke="#88df5c" stroke-width="1.8" />
<line x1="188.10" y1="256.08" x2="194.10" y2="256.08" stroke="#88df5c" stroke-width="1.8" />
<circle cx="191.10" cy="247.11" r="2.6" fill="#88df5c"/>
<line x1="228.76" y1="221.64" x2="228.76" y2="241.77" stroke="#88df5c" stroke-width="1.5" />
<line x1="225.76" y1="221.64" x2="231.76" y2="221.64" stroke="#88df5c" stroke-width="1.8" />
<line x1="225.76" y1="241.77" x2="231.76" y2="241.77" stroke="#88df5c" stroke-width="1.8" />
<circle cx="228.76" cy="231.70" r="2.6" fill="#88df5c"/>
</g>
<polygon points="95.00,279.40 95.61,280.56 96.90,280.78 95.99,281.72 96.18,283.02 95.00,282.44 93.82,283.02 94.01,281.72 93.10,280.78 94.39,280.56" fill="#111"/>
<polygon points="98.90,279.40 99.51,280.56 100.80,280.78 99.89,281.72 100.08,283.02 98.90,282.44 97.72,283.02 97.91,281.72 97.00,280.78 98.29,280.56" fill="#111"/>
<polygon points="96.95,300.50 97.56,301.66 98.85,301.88 97.94,302.82 98.13,304.12 96.95,303.54 95.77,304.12 95.96,302.82 95.05,301.88 96.34,301.66" fill="#111"/>
<polygon points="113.83,261.20 114.44,262.36 115.73,262.58 114.82,263.52 115.01,264.82 113.83,264.24 112.65,264.82 112.84,263.52 111.93,262.58 113.22,262.36" fill="#111"/>
<polygon points="117.73,261.20 118.34,262.36 119.63,262.58 118.72,263.52 118.91,264.82 117.73,264.24 116.55,264.82 116.74,263.52 115.83,262.58 117.12,262.36" fill="#111"/>
<polygon points="115.78,283.60 116.39,284.76 117.68,284.98 116.77,285.92 116.96,287.22 115.78,286.64 114.60,287.22 114.79,285.92 113.88,284.98 115.17,284.76" fill="#111"/>
<polygon points="149.54,234.70 150.15,235.86 151.44,236.08 150.53,237.02 150.72,238.32 149.54,237.74 148.36,238.32 148.55,237.02 147.64,236.08 148.93,235.86" fill="#111"/>
<polygon points="153.44,234.70 154.05,235.86 155.34,236.08 154.43,237.02 154.62,238.32 153.44,237.74 152.26,238.32 152.45,237.02 151.54,236.08 152.83,235.86" fill="#111"/>
<polygon points="157.34,234.70 157.95,235.86 159.24,236.08 158.33,237.02 158.52,238.32 157.34,237.74 156.16,238.32 156.35,237.02 155.44,236.08 156.73,235.86" fill="#111"/>
<polygon points="151.49,257.50 152.10,258.66 153.39,258.88 152.48,259.82 152.67,261.12 151.49,260.54 150.31,261.12 150.50,259.82 149.59,258.88 150.88,258.66" fill="#111"/>
<polygon points="155.39,257.50 156.00,258.66 157.29,258.88 156.38,259.82 156.57,261.12 155.39,260.54 154.21,261.12 154.40,259.82 153.49,258.88 154.78,258.66" fill="#111"/>
<polygon points="187.20,200.00 187.81,201.16 189.10,201.38 188.19,202.32 188.38,203.62 187.20,203.04 186.02,203.62 186.21,202.32 185.30,201.38 186.59,201.16" fill="#111"/>
<polygon points="191.10,200.00 191.71,201.16 193.00,201.38 192.09,202.32 192.28,203.62 191.10,203.04 189.92,203.62 190.11,202.32 189.20,201.38 190.49,201.16" fill="#111"/>
<polygon points="195.00,200.00 195.61,201.16 196.90,201.38 195.99,202.32 196.18,203.62 195.00,203.04 193.82,203.62 194.01,202.32 193.10,201.38 194.39,201.16" fill="#111"/>
<polygon points="189.15,223.40 189.76,224.56 191.05,224.78 190.14,225.72 190.33,227.02 189.15,226.44 187.97,227.02 188.16,225.72 187.25,224.78 188.54,224.56" fill="#111"/>
<polygon points="193.05,223.40 193.66,224.56 194.95,224.78 194.04,225.72 194.23,227.02 193.05,226.44 191.87,227.02 192.06,225.72 191.15,224.78 192.44,224.56" fill="#111"/>
<polygon points="224.86,181.20 225.47,182.36 226.76,182.58 225.85,183.52 226.04,184.82 224.86,184.24 223.68,184.82 223.87,183.52 222.96,182.58 224.25,182.36" fill="#111"/>
<polygon points="228.76,181.20 229.37,182.36 230.66,182.58 229.75,183.52 229.94,184.82 228.76,184.24 227.58,184.82 227.77,183.52 226.86,182.58 228.15,182.36" fill="#111"/>
<polygon points="232.66,181.20 233.27,182.36 234.56,182.58 233.65,183.52 233.84,184.82 232.66,184.24 231.48,184.82 231.67,183.52 230.76,182.58 232.05,182.36" fill="#111"/>
<polygon points="228.76,205.60 229.37,206.76 230.66,206.98 229.75,207.92 229.94,209.22 228.76,208.64 227.58,209.22 227.77,207.92 226.86,206.98 228.15,206.76" fill="#111"/>
<defs><clipPath id="cu"><rect x="321" y="190" width="200" height="108"/></clipPath><clipPath id="cl"><rect x="321" y="314.6" width="200" height="20"/></clipPath></defs>
<line x1="320.20" y1="205.60" x2="320.20" y2="298.00" stroke="#111" stroke-width="1.8" />
<line x1="317.20" y1="298.00" x2="323.80" y2="298.00" stroke="#111" stroke-width="1.8" />
<line x1="320.20" y1="314.60" x2="320.20" y2="335.50" stroke="#111" stroke-width="1.8" />
<line x1="315.30" y1="314.60" x2="323.80" y2="314.60" stroke="#111" stroke-width="1.8" />
<line x1="315.30" y1="330.50" x2="509.32" y2="330.50" stroke="#111" stroke-width="1.8" />
<line x1="315.30" y1="284.50" x2="320.20" y2="284.50" stroke="#111" stroke-width="1.8" />
<text x="314.9" y="288.4" font-size="10.8" text-anchor="end" font-weight="normal" fill="#111" textLength="9.8" lengthAdjust="spacingAndGlyphs" style='font-family:"Liberation Sans", sans-serif'>40</text>
<line x1="315.30" y1="258.20" x2="320.20" y2="258.20" stroke="#111" stroke-width="1.8" />
<text x="314.9" y="262.09999999999997" font-size="10.8" text-anchor="end" font-weight="normal" fill="#111" textLength="9.8" lengthAdjust="spacingAndGlyphs" style='font-family:"Liberation Sans", sans-serif'>60</text>
<line x1="315.30" y1="231.90" x2="320.20" y2="231.90" stroke="#111" stroke-width="1.8" />
<text x="314.9" y="235.79999999999998" font-size="10.8" text-anchor="end" font-weight="normal" fill="#111" textLength="9.8" lengthAdjust="spacingAndGlyphs" style='font-family:"Liberation Sans", sans-serif'>80</text>
<line x1="315.30" y1="205.60" x2="320.20" y2="205.60" stroke="#111" stroke-width="1.8" />
<text x="314.9" y="209.5" font-size="10.8" text-anchor="end" font-weight="normal" fill="#111" textLength="14.6" lengthAdjust="spacingAndGlyphs" style='font-family:"Liberation Sans", sans-serif'>100</text>
<text x="314.9" y="318.60499999999996" font-size="10.8" text-anchor="end" font-weight="normal" fill="#111" textLength="9.8" lengthAdjust="spacingAndGlyphs" style='font-family:"Liberation Sans", sans-serif'>15</text>
<text x="314.9" y="334.4" font-size="10.8" text-anchor="end" font-weight="normal" fill="#111" style='font-family:"Liberation Sans", sans-serif'>0</text>
<line x1="320.40" y1="330.50" x2="320.40" y2="335.60" stroke="#111" stroke-width="1.8" />
<text x="320.4" y="347.5" font-size="10.5" text-anchor="middle" font-weight="normal" fill="#111" style='font-family:"Liberation Sans", sans-serif'>0</text>
<line x1="358.00" y1="330.50" x2="358.00" y2="335.60" stroke="#111" stroke-width="1.8" />
<text x="358.005" y="347.5" font-size="10.5" text-anchor="middle" font-weight="normal" fill="#111" style='font-family:"Liberation Sans", sans-serif'>15</text>
<line x1="395.61" y1="330.50" x2="395.61" y2="335.60" stroke="#111" stroke-width="1.8" />
<text x="395.61" y="347.5" font-size="10.5" text-anchor="middle" font-weight="normal" fill="#111" style='font-family:"Liberation Sans", sans-serif'>30</text>
<line x1="433.21" y1="330.50" x2="433.21" y2="335.60" stroke="#111" stroke-width="1.8" />
<text x="433.215" y="347.5" font-size="10.5" text-anchor="middle" font-weight="normal" fill="#111" style='font-family:"Liberation Sans", sans-serif'>45</text>
<line x1="470.82" y1="330.50" x2="470.82" y2="335.60" stroke="#111" stroke-width="1.8" />
<text x="470.82" y="347.5" font-size="10.5" text-anchor="middle" font-weight="normal" fill="#111" style='font-family:"Liberation Sans", sans-serif'>60</text>
<line x1="508.42" y1="330.50" x2="508.42" y2="335.60" stroke="#111" stroke-width="1.8" />
<text x="508.42499999999995" y="347.5" font-size="10.5" text-anchor="middle" font-weight="normal" fill="#111" style='font-family:"Liberation Sans", sans-serif'>75</text>
<text x="415" y="363.8" font-size="10" text-anchor="middle" font-weight="normal" fill="#111" textLength="37.5" lengthAdjust="spacingAndGlyphs" style='font-family:"Liberation Sans", sans-serif'>Days P.I.</text>
<text x="280" y="269" font-size="10" text-anchor="middle" fill="#111" transform="rotate(-90 280 269)" textLength="133" lengthAdjust="spacingAndGlyphs" style='font-family:"Liberation Sans", sans-serif'>% <tspan style='font-family:"Liberation Serif",serif' font-weight="bold">IL7rα</tspan>hi of H2D<tspan font-size="6.5" dy="-4">b</tspan><tspan dy="4">:GP33, CD8+</tspan></text>
<text x="292" y="268.5" font-size="10" text-anchor="middle" font-weight="normal" fill="#111" transform="rotate(-90 292 268.5)" textLength="21" lengthAdjust="spacingAndGlyphs" style='font-family:"Liberation Sans", sans-serif'>PBLs</text>
<g clip-path="url(#cu)">
<polyline points="340.46,331.84 358.00,284.76 393.10,266.22 428.20,243.08 470.82,236.50 495.89,237.69" fill="none" stroke="#c4282a" stroke-width="1.8" stroke-linejoin="round" />
<line x1="340.46" y1="330.52" x2="340.46" y2="333.15" stroke="#c4282a" stroke-width="1.5" />
<line x1="337.46" y1="330.52" x2="343.46" y2="330.52" stroke="#c4282a" stroke-width="1.8" />
<line x1="337.46" y1="333.15" x2="343.46" y2="333.15" stroke="#c4282a" stroke-width="1.8" />
<circle cx="340.46" cy="331.84" r="2.6" fill="#c4282a"/>
<line x1="358.00" y1="277.53" x2="358.00" y2="292.00" stroke="#c4282a" stroke-width="1.5" />
<line x1="355.00" y1="277.53" x2="361.00" y2="277.53" stroke="#c4282a" stroke-width="1.8" />
<line x1="355.00" y1="292.00" x2="361.00" y2="292.00" stroke="#c4282a" stroke-width="1.8" />
<circle cx="358.00" cy="284.76" r="2.6" fill="#c4282a"/>
<line x1="393.10" y1="259.25" x2="393.10" y2="273.19" stroke="#c4282a" stroke-width="1.5" />
<line x1="390.10" y1="259.25" x2="396.10" y2="259.25" stroke="#c4282a" stroke-width="1.8" />
<line x1="390.10" y1="273.19" x2="396.10" y2="273.19" stroke="#c4282a" stroke-width="1.8" />
<circle cx="393.10" cy="266.22" r="2.6" fill="#c4282a"/>
<line x1="428.20" y1="235.19" x2="428.20" y2="250.97" stroke="#c4282a" stroke-width="1.5" />
<line x1="425.20" y1="235.19" x2="431.20" y2="235.19" stroke="#c4282a" stroke-width="1.8" />
<line x1="425.20" y1="250.97" x2="431.20" y2="250.97" stroke="#c4282a" stroke-width="1.8" />
<circle cx="428.20" cy="243.08" r="2.6" fill="#c4282a"/>
<line x1="470.82" y1="230.85" x2="470.82" y2="242.16" stroke="#c4282a" stroke-width="1.5" />
<line x1="467.82" y1="230.85" x2="473.82" y2="230.85" stroke="#c4282a" stroke-width="1.8" />
<line x1="467.82" y1="242.16" x2="473.82" y2="242.16" stroke="#c4282a" stroke-width="1.8" />
<circle cx="470.82" cy="236.50" r="2.6" fill="#c4282a"/>
<line x1="495.89" y1="230.45" x2="495.89" y2="244.92" stroke="#c4282a" stroke-width="1.5" />
<line x1="492.89" y1="230.45" x2="498.89" y2="230.45" stroke="#c4282a" stroke-width="1.8" />
<line x1="492.89" y1="244.92" x2="498.89" y2="244.92" stroke="#c4282a" stroke-width="1.8" />
<circle cx="495.89" cy="237.69" r="2.6" fill="#c4282a"/>
</g>
<g clip-path="url(#cl)">
<polyline points="340.46,326.29 358.00,288.59 393.10,273.74 428.20,255.21 470.82,249.95 495.89,250.89" fill="none" stroke="#c4282a" stroke-width="1.8" stroke-linejoin="round" />
<line x1="340.46" y1="325.24" x2="340.46" y2="327.34" stroke="#c4282a" stroke-width="1.5" />
<line x1="337.46" y1="325.24" x2="343.46" y2="325.24" stroke="#c4282a" stroke-width="1.8" />
<line x1="337.46" y1="327.34" x2="343.46" y2="327.34" stroke="#c4282a" stroke-width="1.8" />
<circle cx="340.46" cy="326.29" r="2.6" fill="#c4282a"/>
<line x1="358.00" y1="282.80" x2="358.00" y2="294.38" stroke="#c4282a" stroke-width="1.5" />
<line x1="355.00" y1="282.80" x2="361.00" y2="282.80" stroke="#c4282a" stroke-width="1.8" />
<line x1="355.00" y1="294.38" x2="361.00" y2="294.38" stroke="#c4282a" stroke-width="1.8" />
<circle cx="358.00" cy="288.59" r="2.6" fill="#c4282a"/>
<line x1="393.10" y1="268.16" x2="393.10" y2="279.32" stroke="#c4282a" stroke-width="1.5" />
<line x1="390.10" y1="268.16" x2="396.10" y2="268.16" stroke="#c4282a" stroke-width="1.8" />
<line x1="390.10" y1="279.32" x2="396.10" y2="279.32" stroke="#c4282a" stroke-width="1.8" />
<circle cx="393.10" cy="273.74" r="2.6" fill="#c4282a"/>
<line x1="428.20" y1="248.89" x2="428.20" y2="261.53" stroke="#c4282a" stroke-width="1.5" />
<line x1="425.20" y1="248.89" x2="431.20" y2="248.89" stroke="#c4282a" stroke-width="1.8" />
<line x1="425.20" y1="261.53" x2="431.20" y2="261.53" stroke="#c4282a" stroke-width="1.8" />
<circle cx="428.20" cy="255.21" r="2.6" fill="#c4282a"/>
<line x1="470.82" y1="245.42" x2="470.82" y2="254.47" stroke="#c4282a" stroke-width="1.5" />
<line x1="467.82" y1="245.42" x2="473.82" y2="245.42" stroke="#c4282a" stroke-width="1.8" />
<line x1="467.82" y1="254.47" x2="473.82" y2="254.47" stroke="#c4282a" stroke-width="1.8" />
<circle cx="470.82" cy="249.95" r="2.6" fill="#c4282a"/>
<line x1="495.89" y1="245.10" x2="495.89" y2="256.68" stroke="#c4282a" stroke-width="1.5" />
<line x1="492.89" y1="245.10" x2="498.89" y2="245.10" stroke="#c4282a" stroke-width="1.8" />
<line x1="492.89" y1="256.68" x2="498.89" y2="256.68" stroke="#c4282a" stroke-width="1.8" />
<circle cx="495.89" cy="250.89" r="2.6" fill="#c4282a"/>
</g>
<g clip-path="url(#cu)">
<polyline points="340.46,331.97 358.00,261.88 393.10,244.26 428.20,229.27 470.82,223.75 495.89,225.46" fill="none" stroke="#2a32b4" stroke-width="1.8" stroke-linejoin="round" />
<line x1="340.46" y1="330.66" x2="340.46" y2="333.29" stroke="#2a32b4" stroke-width="1.5" />
<line x1="337.46" y1="330.66" x2="343.46" y2="330.66" stroke="#2a32b4" stroke-width="1.8" />
<line x1="337.46" y1="333.29" x2="343.46" y2="333.29" stroke="#2a32b4" stroke-width="1.8" />
<circle cx="340.46" cy="331.97" r="2.6" fill="#2a32b4"/>
<line x1="358.00" y1="255.31" x2="358.00" y2="268.46" stroke="#2a32b4" stroke-width="1.5" />
<line x1="355.00" y1="255.31" x2="361.00" y2="255.31" stroke="#2a32b4" stroke-width="1.8" />
<line x1="355.00" y1="268.46" x2="361.00" y2="268.46" stroke="#2a32b4" stroke-width="1.8" />
<circle cx="358.00" cy="261.88" r="2.6" fill="#2a32b4"/>
<line x1="393.10" y1="236.37" x2="393.10" y2="252.15" stroke="#2a32b4" stroke-width="1.5" />
<line x1="390.10" y1="236.37" x2="396.10" y2="236.37" stroke="#2a32b4" stroke-width="1.8" />
<line x1="390.10" y1="252.15" x2="396.10" y2="252.15" stroke="#2a32b4" stroke-width="1.8" />
<circle cx="393.10" cy="244.26" r="2.6" fill="#2a32b4"/>
<line x1="428.20" y1="222.69" x2="428.20" y2="235.84" stroke="#2a32b4" stroke-width="1.5" />
<line x1="425.20" y1="222.69" x2="431.20" y2="222.69" stroke="#2a32b4" stroke-width="1.8" />
<line x1="425.20" y1="235.84" x2="431.20" y2="235.84" stroke="#2a32b4" stroke-width="1.8" />
<circle cx="428.20" cy="229.27" r="2.6" fill="#2a32b4"/>
<line x1="470.82" y1="216.51" x2="470.82" y2="230.98" stroke="#2a32b4" stroke-width="1.5" />
<line x1="467.82" y1="216.51" x2="473.82" y2="216.51" stroke="#2a32b4" stroke-width="1.8" />
<line x1="467.82" y1="230.98" x2="473.82" y2="230.98" stroke="#2a32b4" stroke-width="1.8" />
<circle cx="470.82" cy="223.75" r="2.6" fill="#2a32b4"/>
<line x1="495.89" y1="219.28" x2="495.89" y2="231.64" stroke="#2a32b4" stroke-width="1.5" />
<line x1="492.89" y1="219.28" x2="498.89" y2="219.28" stroke="#2a32b4" stroke-width="1.8" />
<line x1="492.89" y1="231.64" x2="498.89" y2="231.64" stroke="#2a32b4" stroke-width="1.8" />
<circle cx="495.89" cy="225.46" r="2.6" fill="#2a32b4"/>
</g>
<g clip-path="url(#cl)">
<polyline points="340.46,326.39 358.00,270.27 393.10,256.16 428.20,244.15 470.82,239.73 495.89,241.10" fill="none" stroke="#2a32b4" stroke-width="1.8" stroke-linejoin="round" />
<line x1="340.46" y1="325.34" x2="340.46" y2="327.45" stroke="#2a32b4" stroke-width="1.5" />
<line x1="337.46" y1="325.34" x2="343.46" y2="325.34" stroke="#2a32b4" stroke-width="1.8" />
<line x1="337.46" y1="327.45" x2="343.46" y2="327.45" stroke="#2a32b4" stroke-width="1.8" />
<circle cx="340.46" cy="326.39" r="2.6" fill="#2a32b4"/>
<line x1="358.00" y1="265.00" x2="358.00" y2="275.53" stroke="#2a32b4" stroke-width="1.5" />
<line x1="355.00" y1="265.00" x2="361.00" y2="265.00" stroke="#2a32b4" stroke-width="1.8" />
<line x1="355.00" y1="275.53" x2="361.00" y2="275.53" stroke="#2a32b4" stroke-width="1.8" />
<circle cx="358.00" cy="270.27" r="2.6" fill="#2a32b4"/>
<line x1="393.10" y1="249.84" x2="393.10" y2="262.48" stroke="#2a32b4" stroke-width="1.5" />
<line x1="390.10" y1="249.84" x2="396.10" y2="249.84" stroke="#2a32b4" stroke-width="1.8" />
<line x1="390.10" y1="262.48" x2="396.10" y2="262.48" stroke="#2a32b4" stroke-width="1.8" />
<circle cx="393.10" cy="256.16" r="2.6" fill="#2a32b4"/>
<line x1="428.20" y1="238.89" x2="428.20" y2="249.42" stroke="#2a32b4" stroke-width="1.5" />
<line x1="425.20" y1="238.89" x2="431.20" y2="238.89" stroke="#2a32b4" stroke-width="1.8" />
<line x1="425.20" y1="249.42" x2="431.20" y2="249.42" stroke="#2a32b4" stroke-width="1.8" />
<circle cx="428.20" cy="244.15" r="2.6" fill="#2a32b4"/>
<line x1="470.82" y1="233.94" x2="470.82" y2="245.52" stroke="#2a32b4" stroke-width="1.5" />
<line x1="467.82" y1="233.94" x2="473.82" y2="233.94" stroke="#2a32b4" stroke-width="1.8" />
<line x1="467.82" y1="245.52" x2="473.82" y2="245.52" stroke="#2a32b4" stroke-width="1.8" />
<circle cx="470.82" cy="239.73" r="2.6" fill="#2a32b4"/>
<line x1="495.89" y1="236.15" x2="495.89" y2="246.05" stroke="#2a32b4" stroke-width="1.5" />
<line x1="492.89" y1="236.15" x2="498.89" y2="236.15" stroke="#2a32b4" stroke-width="1.8" />
<line x1="492.89" y1="246.05" x2="498.89" y2="246.05" stroke="#2a32b4" stroke-width="1.8" />
<circle cx="495.89" cy="241.10" r="2.6" fill="#2a32b4"/>
</g>
<g clip-path="url(#cu)">
<polyline points="340.46,325.26 358.00,240.05 393.10,228.88 428.20,217.17 470.82,213.10 495.89,214.15" fill="none" stroke="#88df5c" stroke-width="1.8" stroke-linejoin="round" />
<line x1="340.46" y1="323.95" x2="340.46" y2="326.58" stroke="#88df5c" stroke-width="1.5" />
<line x1="337.46" y1="323.95" x2="343.46" y2="323.95" stroke="#88df5c" stroke-width="1.8" />
<line x1="337.46" y1="326.58" x2="343.46" y2="326.58" stroke="#88df5c" stroke-width="1.8" />
<circle cx="340.46" cy="325.26" r="2.6" fill="#88df5c"/>
<line x1="358.00" y1="230.19" x2="358.00" y2="249.92" stroke="#88df5c" stroke-width="1.5" />
<line x1="355.00" y1="230.19" x2="361.00" y2="230.19" stroke="#88df5c" stroke-width="1.8" />
<line x1="355.00" y1="249.92" x2="361.00" y2="249.92" stroke="#88df5c" stroke-width="1.8" />
<circle cx="358.00" cy="240.05" r="2.6" fill="#88df5c"/>
<line x1="393.10" y1="222.30" x2="393.10" y2="235.45" stroke="#88df5c" stroke-width="1.5" />
<line x1="390.10" y1="222.30" x2="396.10" y2="222.30" stroke="#88df5c" stroke-width="1.8" />
<line x1="390.10" y1="235.45" x2="396.10" y2="235.45" stroke="#88df5c" stroke-width="1.8" />
<circle cx="393.10" cy="228.88" r="2.6" fill="#88df5c"/>
<line x1="428.20" y1="213.23" x2="428.20" y2="221.12" stroke="#88df5c" stroke-width="1.5" />
<line x1="425.20" y1="213.23" x2="431.20" y2="213.23" stroke="#88df5c" stroke-width="1.8" />
<line x1="425.20" y1="221.12" x2="431.20" y2="221.12" stroke="#88df5c" stroke-width="1.8" />
<circle cx="428.20" cy="217.17" r="2.6" fill="#88df5c"/>
<line x1="470.82" y1="208.49" x2="470.82" y2="217.70" stroke="#88df5c" stroke-width="1.5" />
<line x1="467.82" y1="208.49" x2="473.82" y2="208.49" stroke="#88df5c" stroke-width="1.8" />
<line x1="467.82" y1="217.70" x2="473.82" y2="217.70" stroke="#88df5c" stroke-width="1.8" />
<circle cx="470.82" cy="213.10" r="2.6" fill="#88df5c"/>
<line x1="495.89" y1="210.86" x2="495.89" y2="217.44" stroke="#88df5c" stroke-width="1.5" />
<line x1="492.89" y1="210.86" x2="498.89" y2="210.86" stroke="#88df5c" stroke-width="1.8" />
<line x1="492.89" y1="217.44" x2="498.89" y2="217.44" stroke="#88df5c" stroke-width="1.8" />
<circle cx="495.89" cy="214.15" r="2.6" fill="#88df5c"/>
</g>
<g clip-path="url(#cl)">
<polyline points="340.46,321.02 358.00,252.79 393.10,243.84 428.20,234.47 470.82,231.20 495.89,232.04" fill="none" stroke="#88df5c" stroke-width="1.8" stroke-linejoin="round" />
<line x1="340.46" y1="319.97" x2="340.46" y2="322.08" stroke="#88df5c" stroke-width="1.5" />
<line x1="337.46" y1="319.97" x2="343.46" y2="319.97" stroke="#88df5c" stroke-width="1.8" />
<line x1="337.46" y1="322.08" x2="343.46" y2="322.08" stroke="#88df5c" stroke-width="1.8" />
<circle cx="340.46" cy="321.02" r="2.6" fill="#88df5c"/>
<line x1="358.00" y1="244.89" x2="358.00" y2="260.69" stroke="#88df5c" stroke-width="1.5" />
<line x1="355.00" y1="244.89" x2="361.00" y2="244.89" stroke="#88df5c" stroke-width="1.8" />
<line x1="355.00" y1="260.69" x2="361.00" y2="260.69" stroke="#88df5c" stroke-width="1.8" />
<circle cx="358.00" cy="252.79" r="2.6" fill="#88df5c"/>
<line x1="393.10" y1="238.57" x2="393.10" y2="249.10" stroke="#88df5c" stroke-width="1.5" />
<line x1="390.10" y1="238.57" x2="396.10" y2="238.57" stroke="#88df5c" stroke-width="1.8" />
<line x1="390.10" y1="249.10" x2="396.10" y2="249.10" stroke="#88df5c" stroke-width="1.8" />
<circle cx="393.10" cy="243.84" r="2.6" fill="#88df5c"/>
<line x1="428.20" y1="231.31" x2="428.20" y2="237.63" stroke="#88df5c" stroke-width="1.5" />
<line x1="425.20" y1="231.31" x2="431.20" y2="231.31" stroke="#88df5c" stroke-width="1.8" />
<line x1="425.20" y1="237.63" x2="431.20" y2="237.63" stroke="#88df5c" stroke-width="1.8" />
<circle cx="428.20" cy="234.47" r="2.6" fill="#88df5c"/>
<line x1="470.82" y1="227.52" x2="470.82" y2="234.89" stroke="#88df5c" stroke-width="1.5" />
<line x1="467.82" y1="227.52" x2="473.82" y2="227.52" stroke="#88df5c" stroke-width="1.8" />
<line x1="467.82" y1="234.89" x2="473.82" y2="234.89" stroke="#88df5c" stroke-width="1.8" />
<circle cx="470.82" cy="231.20" r="2.6" fill="#88df5c"/>
<line x1="495.89" y1="229.41" x2="495.89" y2="234.68" stroke="#88df5c" stroke-width="1.5" />
<line x1="492.89" y1="229.41" x2="498.89" y2="229.41" stroke="#88df5c" stroke-width="1.8" />
<line x1="492.89" y1="234.68" x2="498.89" y2="234.68" stroke="#88df5c" stroke-width="1.8" />
<circle cx="495.89" cy="232.04" r="2.6" fill="#88df5c"/>
</g>
<polygon points="353.00,200.10 353.74,201.49 355.29,201.76 354.19,202.89 354.42,204.44 353.00,203.75 351.59,204.44 351.82,202.89 350.72,201.76 352.27,201.49" fill="#111"/>
<polygon points="358.00,200.10 358.74,201.49 360.29,201.76 359.19,202.89 359.42,204.44 358.00,203.75 356.59,204.44 356.82,202.89 355.72,201.76 357.27,201.49" fill="#111"/>
<polygon points="363.00,200.10 363.74,201.49 365.29,201.76 364.19,202.89 364.42,204.44 363.00,203.75 361.59,204.44 361.82,202.89 360.72,201.76 362.27,201.49" fill="#111"/>
<polygon points="353.00,214.70 353.74,216.09 355.29,216.36 354.19,217.49 354.42,219.04 353.00,218.35 351.59,219.04 351.82,217.49 350.72,216.36 352.27,216.09" fill="#111"/>
<polygon points="358.00,214.70 358.74,216.09 360.29,216.36 359.19,217.49 359.42,219.04 358.00,218.35 356.59,219.04 356.82,217.49 355.72,216.36 357.27,216.09" fill="#111"/>
<polygon points="363.00,214.70 363.74,216.09 365.29,216.36 364.19,217.49 364.42,219.04 363.00,218.35 361.59,219.04 361.82,217.49 360.72,216.36 362.27,216.09" fill="#111"/>
<polygon points="388.10,183.70 388.84,185.09 390.39,185.36 389.29,186.49 389.51,188.04 388.10,187.35 386.69,188.04 386.92,186.49 385.82,185.36 387.37,185.09" fill="#111"/>
<polygon points="393.10,183.70 393.84,185.09 395.39,185.36 394.29,186.49 394.51,188.04 393.10,187.35 391.69,188.04 391.92,186.49 390.82,185.36 392.37,185.09" fill="#111"/>
<polygon points="398.10,183.70 398.84,185.09 400.39,185.36 399.29,186.49 399.51,188.04 398.10,187.35 396.69,188.04 396.92,186.49 395.82,185.36 397.37,185.09" fill="#111"/>
<polygon points="388.10,193.70 388.84,195.09 390.39,195.36 389.29,196.49 389.51,198.04 388.10,197.35 386.69,198.04 386.92,196.49 385.82,195.36 387.37,195.09" fill="#111"/>
<polygon points="393.10,193.70 393.84,195.09 395.39,195.36 394.29,196.49 394.51,198.04 393.10,197.35 391.69,198.04 391.92,196.49 390.82,195.36 392.37,195.09" fill="#111"/>
<polygon points="398.10,193.70 398.84,195.09 400.39,195.36 399.29,196.49 399.51,198.04 398.10,197.35 396.69,198.04 396.92,196.49 395.82,195.36 397.37,195.09" fill="#111"/>
<polygon points="423.20,183.70 423.93,185.09 425.48,185.36 424.39,186.49 424.61,188.04 423.20,187.35 421.79,188.04 422.01,186.49 420.92,185.36 422.47,185.09" fill="#111"/>
<polygon points="428.20,183.70 428.93,185.09 430.48,185.36 429.39,186.49 429.61,188.04 428.20,187.35 426.79,188.04 427.01,186.49 425.92,185.36 427.47,185.09" fill="#111"/>
<polygon points="433.20,183.70 433.93,185.09 435.48,185.36 434.39,186.49 434.61,188.04 433.20,187.35 431.79,188.04 432.01,186.49 430.92,185.36 432.47,185.09" fill="#111"/>
<polygon points="423.20,193.70 423.93,195.09 425.48,195.36 424.39,196.49 424.61,198.04 423.20,197.35 421.79,198.04 422.01,196.49 420.92,195.36 422.47,195.09" fill="#111"/>
<polygon points="428.20,193.70 428.93,195.09 430.48,195.36 429.39,196.49 429.61,198.04 428.20,197.35 426.79,198.04 427.01,196.49 425.92,195.36 427.47,195.09" fill="#111"/>
<polygon points="433.20,193.70 433.93,195.09 435.48,195.36 434.39,196.49 434.61,198.04 433.20,197.35 431.79,198.04 432.01,196.49 430.92,195.36 432.47,195.09" fill="#111"/>
<polygon points="465.82,183.70 466.55,185.09 468.10,185.36 467.01,186.49 467.23,188.04 465.82,187.35 464.41,188.04 464.63,186.49 463.54,185.36 465.09,185.09" fill="#111"/>
<polygon points="470.82,183.70 471.55,185.09 473.10,185.36 472.01,186.49 472.23,188.04 470.82,187.35 469.41,188.04 469.63,186.49 468.54,185.36 470.09,185.09" fill="#111"/>
<polygon points="475.82,183.70 476.55,185.09 478.10,185.36 477.01,186.49 477.23,188.04 475.82,187.35 474.41,188.04 474.63,186.49 473.54,185.36 475.09,185.09" fill="#111"/>
<polygon points="465.82,193.70 466.55,195.09 468.10,195.36 467.01,196.49 467.23,198.04 465.82,197.35 464.41,198.04 464.63,196.49 463.54,195.36 465.09,195.09" fill="#111"/>
<polygon points="470.82,193.70 471.55,195.09 473.10,195.36 472.01,196.49 472.23,198.04 470.82,197.35 469.41,198.04 469.63,196.49 468.54,195.36 470.09,195.09" fill="#111"/>
<polygon points="475.82,193.70 476.55,195.09 478.10,195.36 477.01,196.49 477.23,198.04 475.82,197.35 474.41,198.04 474.63,196.49 473.54,195.36 475.09,195.09" fill="#111"/>
<polygon points="490.89,183.70 491.62,185.09 493.17,185.36 492.08,186.49 492.30,188.04 490.89,187.35 489.48,188.04 489.70,186.49 488.61,185.36 490.16,185.09" fill="#111"/>
<polygon points="495.89,183.70 496.62,185.09 498.17,185.36 497.08,186.49 497.30,188.04 495.89,187.35 494.48,188.04 494.70,186.49 493.61,185.36 495.16,185.09" fill="#111"/>
<polygon points="500.89,183.70 501.62,185.09 503.17,185.36 502.08,186.49 502.30,188.04 500.89,187.35 499.48,188.04 499.70,186.49 498.61,185.36 500.16,185.09" fill="#111"/>
<polygon points="490.89,193.70 491.62,195.09 493.17,195.36 492.08,196.49 492.30,198.04 490.89,197.35 489.48,198.04 489.70,196.49 488.61,195.36 490.16,195.09" fill="#111"/>
<polygon points="495.89,193.70 496.62,195.09 498.17,195.36 497.08,196.49 497.30,198.04 495.89,197.35 494.48,198.04 494.70,196.49 493.61,195.36 495.16,195.09" fill="#111"/>
<polygon points="500.89,193.70 501.62,195.09 503.17,195.36 502.08,196.49 502.30,198.04 500.89,197.35 499.48,198.04 499.70,196.49 498.61,195.36 500.16,195.09" fill="#111"/>
<polygon points="332.60,258.70 333.33,260.09 334.88,260.36 333.79,261.49 334.01,263.04 332.60,262.35 331.19,263.04 331.41,261.49 330.32,260.36 331.87,260.09" fill="#111"/>
<polygon points="337.60,258.70 338.33,260.09 339.88,260.36 338.79,261.49 339.01,263.04 337.60,262.35 336.19,263.04 336.41,261.49 335.32,260.36 336.87,260.09" fill="#111"/>
<polygon points="342.60,258.70 343.33,260.09 344.88,260.36 343.79,261.49 344.01,263.04 342.60,262.35 341.19,263.04 341.41,261.49 340.32,260.36 341.87,260.09" fill="#111"/>
<text x="337.6" y="282.4" font-size="13" text-anchor="middle" font-weight="normal" fill="#111" textLength="19.4" lengthAdjust="spacingAndGlyphs" style='font-family:"Liberation Sans", sans-serif'>n.s.</text>
<defs><clipPath id="hb0"><rect x="42.800000000000004" y="395.1" width="110.1" height="101.9"/></clipPath><clipPath id="hb1"><rect x="162.6" y="395.1" width="111.3" height="101.9"/></clipPath><clipPath id="hb2"><rect x="285.6" y="395.1" width="108.8" height="101.9"/></clipPath><clipPath id="hb3"><rect x="405.8" y="395.40000000000003" width="109.10000000000001" height="101.6"/></clipPath></defs>
<g clip-path="url(#hb0)">
<path d="M55.00,497.00 L55.00,496.50 L61.00,493.00 L68.00,489.60 L72.60,480.40 L75.00,468.80 L77.30,464.20 L79.60,466.50 L81.00,460.00 L82.20,455.00 L83.60,441.10 L84.90,423.60 L86.20,421.00 L87.60,414.20 L88.90,412.90 L90.30,404.80 L91.20,400.80 L92.30,398.50 L93.60,402.00 L94.30,408.80 L95.70,406.20 L96.60,417.00 L97.70,419.60 L99.00,430.40 L100.40,439.80 L101.70,446.50 L103.10,447.90 L105.00,445.00 L107.00,438.00 L109.00,424.00 L111.00,410.00 L113.00,403.00 L114.80,401.00 L116.00,406.00 L117.20,428.00 L118.40,455.00 L119.50,478.00 L121.00,491.00 L123.00,496.50 L123.00,497.00 Z" fill="#c9c9c9" stroke="none"/>
<path d="M42.00,496.00 L55.00,495.50 L61.00,494.00 L67.00,492.00 L72.60,489.60 L78.00,484.00 L81.90,476.90 L84.50,468.00 L86.90,458.00 L88.50,453.00 L91.60,450.60 L93.60,443.80 L95.70,451.90 L97.70,456.00 L100.40,456.00 L103.10,456.00 L105.10,441.10 L106.40,430.40 L107.80,421.00 L109.10,411.50 L110.50,403.50 L111.80,400.00 L113.20,401.00 L114.50,410.00 L115.20,423.60 L115.90,437.10 L116.50,450.60 L117.70,468.00 L119.00,482.00 L120.50,492.00 L122.00,496.00 L154.00,496.30" fill="none" stroke="#3a3a3a" stroke-width="1.4" stroke-dasharray="1.6,2.0" stroke-linejoin="round"/>
<path d="M42.00,496.20 L55.00,496.00 L63.00,495.50 L70.00,494.20 L78.00,492.50 L84.20,490.80 L88.00,487.00 L91.00,482.00 L93.40,475.80 L95.20,472.00 L96.90,467.70 L98.00,471.00 L99.20,472.30 L100.40,468.00 L101.50,466.50 L103.00,463.00 L105.00,457.30 L106.50,453.00 L108.40,444.00 L110.50,425.00 L111.80,414.20 L113.20,404.80 L114.50,400.00 L115.90,403.50 L116.50,417.00 L117.20,430.40 L117.90,443.80 L118.60,458.00 L119.30,475.00 L120.20,488.00 L121.50,494.50 L123.50,496.30 L154.00,496.30" fill="none" stroke="#000" stroke-width="1.8" stroke-linejoin="round"/>
</g>
<g clip-path="url(#hb1)">
<path d="M162.50,497.00 L162.50,478.00 L164.00,470.00 L166.00,480.00 L168.00,474.00 L170.00,484.00 L172.00,477.00 L174.00,487.00 L176.00,479.00 L178.00,475.80 L180.00,483.00 L182.00,470.00 L183.90,466.50 L186.00,472.00 L187.80,460.00 L189.60,457.30 L191.50,462.00 L193.00,448.00 L195.00,451.00 L197.00,440.00 L198.90,428.40 L200.20,445.70 L202.00,440.00 L203.50,431.00 L204.70,425.00 L206.20,440.00 L208.10,422.60 L209.80,438.00 L211.60,441.00 L214.00,432.00 L216.00,440.00 L218.50,436.50 L221.00,443.00 L224.30,444.60 L226.50,440.00 L228.50,432.00 L230.00,436.00 L231.20,430.70 L233.00,426.00 L235.00,412.00 L236.50,402.00 L237.70,400.70 L239.00,404.00 L240.30,418.00 L241.60,434.00 L243.00,452.00 L243.90,464.20 L245.00,480.00 L246.20,492.00 L247.50,496.50 L247.50,497.00 Z" fill="#c9c9c9" stroke="none"/>
<path d="M162.00,491.00 L170.00,489.00 L178.00,487.00 L185.00,485.00 L190.00,483.00 L195.40,480.40 L201.20,475.80 L205.80,472.30 L209.00,474.00 L212.70,473.50 L218.00,474.00 L224.30,474.60 L228.90,466.50 L231.00,455.00 L233.00,440.00 L235.00,420.00 L237.00,403.00 L238.30,400.00 L240.00,408.00 L241.60,430.00 L243.00,455.00 L244.50,475.00 L246.00,492.00 L248.50,496.50 L275.00,496.50" fill="none" stroke="#3a3a3a" stroke-width="1.4" stroke-dasharray="1.6,2.0" stroke-linejoin="round"/>
<path d="M162.00,494.00 L170.00,493.50 L178.00,494.00 L183.00,492.00 L188.50,489.60 L192.00,487.00 L195.40,483.80 L197.70,487.30 L200.50,484.00 L203.50,482.70 L205.50,486.00 L207.00,487.30 L210.00,482.00 L212.50,476.00 L215.00,473.50 L218.00,478.00 L220.80,475.80 L222.50,472.00 L224.30,470.00 L226.00,466.00 L227.70,462.00 L229.50,458.00 L231.20,452.70 L233.00,442.00 L234.70,429.60 L236.20,412.00 L237.70,400.50 L239.00,404.00 L240.30,418.00 L241.60,434.20 L243.00,455.00 L244.00,472.00 L245.00,489.00 L246.50,495.50 L248.50,496.50 L275.00,496.50" fill="none" stroke="#000" stroke-width="1.8" stroke-linejoin="round"/>
</g>
<g clip-path="url(#hb2)">
<path d="M318.00,497.00 L318.00,496.50 L321.90,495.00 L325.80,488.00 L329.80,478.20 L333.80,472.20 L335.70,456.40 L337.70,454.40 L339.30,446.50 L340.10,445.50 L341.30,454.40 L342.70,460.30 L344.10,464.30 L345.20,466.30 L346.50,458.00 L347.60,449.00 L349.00,430.00 L350.50,412.00 L352.00,400.50 L353.50,412.00 L355.00,430.00 L356.00,449.00 L357.00,470.00 L357.80,485.00 L358.50,493.00 L359.70,495.50 L362.00,496.50 L362.00,497.00 Z" fill="#c9c9c9" stroke="none"/>
<path d="M285.00,496.30 L320.00,496.00 L324.90,493.00 L329.80,486.00 L335.70,481.00 L339.70,477.20 L341.70,474.20 L343.70,473.20 L345.00,470.00 L345.60,485.00 L346.50,470.00 L347.60,449.00 L349.00,430.00 L350.50,412.00 L352.00,400.50 L353.50,412.00 L355.00,430.00 L356.00,449.00 L357.00,470.00 L357.80,485.00 L358.50,493.00 L359.70,495.50 L362.00,496.50 L395.00,496.30" fill="none" stroke="#3a3a3a" stroke-width="1.4" stroke-dasharray="1.6,2.0" stroke-linejoin="round"/>
<path d="M285.00,496.50 L338.00,496.50 L341.00,496.50 L343.50,495.50 L344.70,493.00 L345.60,485.00 L346.50,470.00 L347.60,449.00 L349.00,430.00 L350.50,412.00 L352.00,400.50 L353.50,412.00 L355.00,430.00 L356.00,449.00 L357.00,470.00 L357.80,485.00 L358.50,493.00 L359.70,495.50 L362.00,496.50 L395.00,496.50" fill="none" stroke="#000" stroke-width="1.8" stroke-linejoin="round"/>
</g>
<g clip-path="url(#hb3)">
<path d="M405.50,497.00 L405.50,485.00 L407.30,487.70 L409.00,482.00 L410.80,477.70 L413.00,481.00 L415.00,483.00 L417.50,480.00 L420.10,476.20 L421.50,480.00 L422.70,480.00 L424.70,472.30 L426.00,477.00 L427.30,479.20 L429.60,470.00 L431.50,476.00 L433.50,477.00 L436.00,472.00 L439.20,466.20 L441.00,474.00 L442.70,480.00 L445.80,484.60 L448.50,486.00 L451.20,487.70 L454.00,489.00 L455.80,489.00 L457.50,484.00 L459.00,476.00 L460.50,465.00 L461.60,456.20 L462.80,462.00 L464.20,455.00 L465.50,440.00 L466.80,420.00 L468.00,407.00 L469.50,402.00 L471.00,404.00 L472.50,418.00 L474.00,442.00 L475.30,464.00 L476.50,482.00 L477.60,494.00 L479.00,496.50 L479.00,497.00 Z" fill="#c9c9c9" stroke="none"/>
<path d="M405.00,492.30 L412.70,492.30 L420.40,489.20 L426.50,487.70 L429.60,489.20 L434.20,487.70 L437.30,484.60 L441.90,485.40 L445.80,480.00 L449.60,479.20 L452.70,476.90 L455.80,477.70 L458.10,478.50 L459.60,474.60 L461.50,465.00 L463.50,450.00 L465.50,430.00 L467.50,412.00 L469.50,403.00 L471.50,400.00 L473.40,400.50 L474.50,412.00 L475.20,430.00 L475.80,447.70 L477.00,460.00 L478.10,470.80 L479.30,482.00 L480.40,490.80 L481.20,496.00 L516.00,496.50" fill="none" stroke="#3a3a3a" stroke-width="1.4" stroke-dasharray="1.6,2.0" stroke-linejoin="round"/>
<path d="M405.00,496.30 L442.70,496.30 L449.60,495.80 L454.20,493.00 L458.10,487.70 L460.40,481.50 L462.70,470.80 L464.20,461.50 L465.30,455.40 L466.20,446.20 L467.00,430.00 L467.80,415.00 L468.70,405.00 L469.70,400.80 L470.80,403.00 L471.80,415.00 L472.70,433.00 L473.50,445.00 L474.20,455.40 L475.50,470.80 L476.50,486.20 L477.60,495.00 L479.00,496.50 L516.00,496.50" fill="none" stroke="#000" stroke-width="1.8" stroke-linejoin="round"/>
</g>
<rect x="42.2" y="394.5" width="111.3" height="102.5" fill="none" stroke="#222" stroke-width="1.3"/>
<line x1="40.00" y1="497.00" x2="42.20" y2="497.00" stroke="#222" stroke-width="1.0" />
<line x1="40.00" y1="477.00" x2="42.20" y2="477.00" stroke="#222" stroke-width="1.0" />
<line x1="40.00" y1="457.00" x2="42.20" y2="457.00" stroke="#222" stroke-width="1.0" />
<line x1="40.00" y1="437.00" x2="42.20" y2="437.00" stroke="#222" stroke-width="1.0" />
<line x1="40.00" y1="417.00" x2="42.20" y2="417.00" stroke="#222" stroke-width="1.0" />
<line x1="40.00" y1="397.00" x2="42.20" y2="397.00" stroke="#222" stroke-width="1.0" />
<line x1="44.20" y1="497.00" x2="44.20" y2="501.20" stroke="#222" stroke-width="0.9" />
<line x1="51.48" y1="497.00" x2="51.48" y2="500.40" stroke="#222" stroke-width="0.9" />
<line x1="55.74" y1="497.00" x2="55.74" y2="500.40" stroke="#222" stroke-width="0.9" />
<line x1="58.77" y1="497.00" x2="58.77" y2="500.40" stroke="#222" stroke-width="0.9" />
<line x1="61.11" y1="497.00" x2="61.11" y2="500.40" stroke="#222" stroke-width="0.9" />
<line x1="63.03" y1="497.00" x2="63.03" y2="500.40" stroke="#222" stroke-width="0.9" />
<line x1="64.65" y1="497.00" x2="64.65" y2="500.40" stroke="#222" stroke-width="0.9" />
<line x1="66.05" y1="497.00" x2="66.05" y2="500.40" stroke="#222" stroke-width="0.9" />
<line x1="67.29" y1="497.00" x2="67.29" y2="500.40" stroke="#222" stroke-width="0.9" />
<line x1="68.40" y1="497.00" x2="68.40" y2="501.20" stroke="#222" stroke-width="0.9" />
<line x1="75.68" y1="497.00" x2="75.68" y2="500.40" stroke="#222" stroke-width="0.9" />
<line x1="79.94" y1="497.00" x2="79.94" y2="500.40" stroke="#222" stroke-width="0.9" />
<line x1="82.96" y1="497.00" x2="82.96" y2="500.40" stroke="#222" stroke-width="0.9" />
<line x1="85.31" y1="497.00" x2="85.31" y2="500.40" stroke="#222" stroke-width="0.9" />
<line x1="87.22" y1="497.00" x2="87.22" y2="500.40" stroke="#222" stroke-width="0.9" />
<line x1="88.84" y1="497.00" x2="88.84" y2="500.40" stroke="#222" stroke-width="0.9" />
<line x1="90.25" y1="497.00" x2="90.25" y2="500.40" stroke="#222" stroke-width="0.9" />
<line x1="91.48" y1="497.00" x2="91.48" y2="500.40" stroke="#222" stroke-width="0.9" />
<line x1="92.59" y1="497.00" x2="92.59" y2="501.20" stroke="#222" stroke-width="0.9" />
<line x1="99.87" y1="497.00" x2="99.87" y2="500.40" stroke="#222" stroke-width="0.9" />
<line x1="104.14" y1="497.00" x2="104.14" y2="500.40" stroke="#222" stroke-width="0.9" />
<line x1="107.16" y1="497.00" x2="107.16" y2="500.40" stroke="#222" stroke-width="0.9" />
<line x1="109.50" y1="497.00" x2="109.50" y2="500.40" stroke="#222" stroke-width="0.9" />
<line x1="111.42" y1="497.00" x2="111.42" y2="500.40" stroke="#222" stroke-width="0.9" />
<line x1="113.04" y1="497.00" x2="113.04" y2="500.40" stroke="#222" stroke-width="0.9" />
<line x1="114.44" y1="497.00" x2="114.44" y2="500.40" stroke="#222" stroke-width="0.9" />
<line x1="115.68" y1="497.00" x2="115.68" y2="500.40" stroke="#222" stroke-width="0.9" />
<line x1="116.79" y1="497.00" x2="116.79" y2="501.20" stroke="#222" stroke-width="0.9" />
<line x1="124.07" y1="497.00" x2="124.07" y2="500.40" stroke="#222" stroke-width="0.9" />
<line x1="128.33" y1="497.00" x2="128.33" y2="500.40" stroke="#222" stroke-width="0.9" />
<line x1="131.35" y1="497.00" x2="131.35" y2="500.40" stroke="#222" stroke-width="0.9" />
<line x1="133.70" y1="497.00" x2="133.70" y2="500.40" stroke="#222" stroke-width="0.9" />
<line x1="135.61" y1="497.00" x2="135.61" y2="500.40" stroke="#222" stroke-width="0.9" />
<line x1="137.23" y1="497.00" x2="137.23" y2="500.40" stroke="#222" stroke-width="0.9" />
<line x1="138.64" y1="497.00" x2="138.64" y2="500.40" stroke="#222" stroke-width="0.9" />
<line x1="139.88" y1="497.00" x2="139.88" y2="500.40" stroke="#222" stroke-width="0.9" />
<line x1="140.98" y1="497.00" x2="140.98" y2="501.20" stroke="#222" stroke-width="0.9" />
<line x1="148.27" y1="497.00" x2="148.27" y2="500.40" stroke="#222" stroke-width="0.9" />
<line x1="43.20" y1="498.90" x2="152.50" y2="498.90" stroke="#555" stroke-width="2.6" stroke-dasharray="0.9,2.1"/>
<rect x="162.0" y="394.5" width="112.5" height="102.5" fill="none" stroke="#222" stroke-width="1.3"/>
<line x1="159.80" y1="497.00" x2="162.00" y2="497.00" stroke="#222" stroke-width="1.0" />
<line x1="159.80" y1="477.00" x2="162.00" y2="477.00" stroke="#222" stroke-width="1.0" />
<line x1="159.80" y1="457.00" x2="162.00" y2="457.00" stroke="#222" stroke-width="1.0" />
<line x1="159.80" y1="437.00" x2="162.00" y2="437.00" stroke="#222" stroke-width="1.0" />
<line x1="159.80" y1="417.00" x2="162.00" y2="417.00" stroke="#222" stroke-width="1.0" />
<line x1="159.80" y1="397.00" x2="162.00" y2="397.00" stroke="#222" stroke-width="1.0" />
<line x1="164.00" y1="497.00" x2="164.00" y2="501.20" stroke="#222" stroke-width="0.9" />
<line x1="171.36" y1="497.00" x2="171.36" y2="500.40" stroke="#222" stroke-width="0.9" />
<line x1="175.67" y1="497.00" x2="175.67" y2="500.40" stroke="#222" stroke-width="0.9" />
<line x1="178.72" y1="497.00" x2="178.72" y2="500.40" stroke="#222" stroke-width="0.9" />
<line x1="181.09" y1="497.00" x2="181.09" y2="500.40" stroke="#222" stroke-width="0.9" />
<line x1="183.03" y1="497.00" x2="183.03" y2="500.40" stroke="#222" stroke-width="0.9" />
<line x1="184.67" y1="497.00" x2="184.67" y2="500.40" stroke="#222" stroke-width="0.9" />
<line x1="186.09" y1="497.00" x2="186.09" y2="500.40" stroke="#222" stroke-width="0.9" />
<line x1="187.34" y1="497.00" x2="187.34" y2="500.40" stroke="#222" stroke-width="0.9" />
<line x1="188.46" y1="497.00" x2="188.46" y2="501.20" stroke="#222" stroke-width="0.9" />
<line x1="195.82" y1="497.00" x2="195.82" y2="500.40" stroke="#222" stroke-width="0.9" />
<line x1="200.13" y1="497.00" x2="200.13" y2="500.40" stroke="#222" stroke-width="0.9" />
<line x1="203.18" y1="497.00" x2="203.18" y2="500.40" stroke="#222" stroke-width="0.9" />
<line x1="205.55" y1="497.00" x2="205.55" y2="500.40" stroke="#222" stroke-width="0.9" />
<line x1="207.49" y1="497.00" x2="207.49" y2="500.40" stroke="#222" stroke-width="0.9" />
<line x1="209.12" y1="497.00" x2="209.12" y2="500.40" stroke="#222" stroke-width="0.9" />
<line x1="210.54" y1="497.00" x2="210.54" y2="500.40" stroke="#222" stroke-width="0.9" />
<line x1="211.79" y1="497.00" x2="211.79" y2="500.40" stroke="#222" stroke-width="0.9" />
<line x1="212.91" y1="497.00" x2="212.91" y2="501.20" stroke="#222" stroke-width="0.9" />
<line x1="220.28" y1="497.00" x2="220.28" y2="500.40" stroke="#222" stroke-width="0.9" />
<line x1="224.58" y1="497.00" x2="224.58" y2="500.40" stroke="#222" stroke-width="0.9" />
<line x1="227.64" y1="497.00" x2="227.64" y2="500.40" stroke="#222" stroke-width="0.9" />
<line x1="230.01" y1="497.00" x2="230.01" y2="500.40" stroke="#222" stroke-width="0.9" />
<line x1="231.94" y1="497.00" x2="231.94" y2="500.40" stroke="#222" stroke-width="0.9" />
<line x1="233.58" y1="497.00" x2="233.58" y2="500.40" stroke="#222" stroke-width="0.9" />
<line x1="235.00" y1="497.00" x2="235.00" y2="500.40" stroke="#222" stroke-width="0.9" />
<line x1="236.25" y1="497.00" x2="236.25" y2="500.40" stroke="#222" stroke-width="0.9" />
<line x1="237.37" y1="497.00" x2="237.37" y2="501.20" stroke="#222" stroke-width="0.9" />
<line x1="244.73" y1="497.00" x2="244.73" y2="500.40" stroke="#222" stroke-width="0.9" />
<line x1="249.04" y1="497.00" x2="249.04" y2="500.40" stroke="#222" stroke-width="0.9" />
<line x1="252.09" y1="497.00" x2="252.09" y2="500.40" stroke="#222" stroke-width="0.9" />
<line x1="254.46" y1="497.00" x2="254.46" y2="500.40" stroke="#222" stroke-width="0.9" />
<line x1="256.40" y1="497.00" x2="256.40" y2="500.40" stroke="#222" stroke-width="0.9" />
<line x1="258.04" y1="497.00" x2="258.04" y2="500.40" stroke="#222" stroke-width="0.9" />
<line x1="259.46" y1="497.00" x2="259.46" y2="500.40" stroke="#222" stroke-width="0.9" />
<line x1="260.71" y1="497.00" x2="260.71" y2="500.40" stroke="#222" stroke-width="0.9" />
<line x1="261.83" y1="497.00" x2="261.83" y2="501.20" stroke="#222" stroke-width="0.9" />
<line x1="269.19" y1="497.00" x2="269.19" y2="500.40" stroke="#222" stroke-width="0.9" />
<line x1="273.49" y1="497.00" x2="273.49" y2="500.40" stroke="#222" stroke-width="0.9" />
<line x1="163.00" y1="498.90" x2="273.50" y2="498.90" stroke="#555" stroke-width="2.6" stroke-dasharray="0.9,2.1"/>
<rect x="285.0" y="394.5" width="110.0" height="102.5" fill="none" stroke="#222" stroke-width="1.3"/>
<line x1="282.80" y1="497.00" x2="285.00" y2="497.00" stroke="#222" stroke-width="1.0" />
<line x1="282.80" y1="477.00" x2="285.00" y2="477.00" stroke="#222" stroke-width="1.0" />
<line x1="282.80" y1="457.00" x2="285.00" y2="457.00" stroke="#222" stroke-width="1.0" />
<line x1="282.80" y1="437.00" x2="285.00" y2="437.00" stroke="#222" stroke-width="1.0" />
<line x1="282.80" y1="417.00" x2="285.00" y2="417.00" stroke="#222" stroke-width="1.0" />
<line x1="282.80" y1="397.00" x2="285.00" y2="397.00" stroke="#222" stroke-width="1.0" />
<line x1="287.00" y1="497.00" x2="287.00" y2="501.20" stroke="#222" stroke-width="0.9" />
<line x1="294.20" y1="497.00" x2="294.20" y2="500.40" stroke="#222" stroke-width="0.9" />
<line x1="298.41" y1="497.00" x2="298.41" y2="500.40" stroke="#222" stroke-width="0.9" />
<line x1="301.40" y1="497.00" x2="301.40" y2="500.40" stroke="#222" stroke-width="0.9" />
<line x1="303.71" y1="497.00" x2="303.71" y2="500.40" stroke="#222" stroke-width="0.9" />
<line x1="305.61" y1="497.00" x2="305.61" y2="500.40" stroke="#222" stroke-width="0.9" />
<line x1="307.21" y1="497.00" x2="307.21" y2="500.40" stroke="#222" stroke-width="0.9" />
<line x1="308.60" y1="497.00" x2="308.60" y2="500.40" stroke="#222" stroke-width="0.9" />
<line x1="309.82" y1="497.00" x2="309.82" y2="500.40" stroke="#222" stroke-width="0.9" />
<line x1="310.91" y1="497.00" x2="310.91" y2="501.20" stroke="#222" stroke-width="0.9" />
<line x1="318.11" y1="497.00" x2="318.11" y2="500.40" stroke="#222" stroke-width="0.9" />
<line x1="322.32" y1="497.00" x2="322.32" y2="500.40" stroke="#222" stroke-width="0.9" />
<line x1="325.31" y1="497.00" x2="325.31" y2="500.40" stroke="#222" stroke-width="0.9" />
<line x1="327.63" y1="497.00" x2="327.63" y2="500.40" stroke="#222" stroke-width="0.9" />
<line x1="329.52" y1="497.00" x2="329.52" y2="500.40" stroke="#222" stroke-width="0.9" />
<line x1="331.12" y1="497.00" x2="331.12" y2="500.40" stroke="#222" stroke-width="0.9" />
<line x1="332.51" y1="497.00" x2="332.51" y2="500.40" stroke="#222" stroke-width="0.9" />
<line x1="333.73" y1="497.00" x2="333.73" y2="500.40" stroke="#222" stroke-width="0.9" />
<line x1="334.83" y1="497.00" x2="334.83" y2="501.20" stroke="#222" stroke-width="0.9" />
<line x1="342.02" y1="497.00" x2="342.02" y2="500.40" stroke="#222" stroke-width="0.9" />
<line x1="346.24" y1="497.00" x2="346.24" y2="500.40" stroke="#222" stroke-width="0.9" />
<line x1="349.22" y1="497.00" x2="349.22" y2="500.40" stroke="#222" stroke-width="0.9" />
<line x1="351.54" y1="497.00" x2="351.54" y2="500.40" stroke="#222" stroke-width="0.9" />
<line x1="353.43" y1="497.00" x2="353.43" y2="500.40" stroke="#222" stroke-width="0.9" />
<line x1="355.03" y1="497.00" x2="355.03" y2="500.40" stroke="#222" stroke-width="0.9" />
<line x1="356.42" y1="497.00" x2="356.42" y2="500.40" stroke="#222" stroke-width="0.9" />
<line x1="357.64" y1="497.00" x2="357.64" y2="500.40" stroke="#222" stroke-width="0.9" />
<line x1="358.74" y1="497.00" x2="358.74" y2="501.20" stroke="#222" stroke-width="0.9" />
<line x1="365.94" y1="497.00" x2="365.94" y2="500.40" stroke="#222" stroke-width="0.9" />
<line x1="370.15" y1="497.00" x2="370.15" y2="500.40" stroke="#222" stroke-width="0.9" />
<line x1="373.14" y1="497.00" x2="373.14" y2="500.40" stroke="#222" stroke-width="0.9" />
<line x1="375.45" y1="497.00" x2="375.45" y2="500.40" stroke="#222" stroke-width="0.9" />
<line x1="377.35" y1="497.00" x2="377.35" y2="500.40" stroke="#222" stroke-width="0.9" />
<line x1="378.95" y1="497.00" x2="378.95" y2="500.40" stroke="#222" stroke-width="0.9" />
<line x1="380.33" y1="497.00" x2="380.33" y2="500.40" stroke="#222" stroke-width="0.9" />
<line x1="381.56" y1="497.00" x2="381.56" y2="500.40" stroke="#222" stroke-width="0.9" />
<line x1="382.65" y1="497.00" x2="382.65" y2="501.20" stroke="#222" stroke-width="0.9" />
<line x1="389.85" y1="497.00" x2="389.85" y2="500.40" stroke="#222" stroke-width="0.9" />
<line x1="286.00" y1="498.90" x2="394.00" y2="498.90" stroke="#555" stroke-width="2.6" stroke-dasharray="0.9,2.1"/>
<rect x="405.2" y="394.8" width="110.30000000000001" height="102.19999999999999" fill="none" stroke="#222" stroke-width="1.3"/>
<line x1="403.00" y1="497.00" x2="405.20" y2="497.00" stroke="#222" stroke-width="1.0" />
<line x1="403.00" y1="477.06" x2="405.20" y2="477.06" stroke="#222" stroke-width="1.0" />
<line x1="403.00" y1="457.12" x2="405.20" y2="457.12" stroke="#222" stroke-width="1.0" />
<line x1="403.00" y1="437.18" x2="405.20" y2="437.18" stroke="#222" stroke-width="1.0" />
<line x1="403.00" y1="417.24" x2="405.20" y2="417.24" stroke="#222" stroke-width="1.0" />
<line x1="403.00" y1="397.30" x2="405.20" y2="397.30" stroke="#222" stroke-width="1.0" />
<line x1="407.20" y1="497.00" x2="407.20" y2="501.20" stroke="#222" stroke-width="0.9" />
<line x1="414.42" y1="497.00" x2="414.42" y2="500.40" stroke="#222" stroke-width="0.9" />
<line x1="418.64" y1="497.00" x2="418.64" y2="500.40" stroke="#222" stroke-width="0.9" />
<line x1="421.64" y1="497.00" x2="421.64" y2="500.40" stroke="#222" stroke-width="0.9" />
<line x1="423.96" y1="497.00" x2="423.96" y2="500.40" stroke="#222" stroke-width="0.9" />
<line x1="425.86" y1="497.00" x2="425.86" y2="500.40" stroke="#222" stroke-width="0.9" />
<line x1="427.46" y1="497.00" x2="427.46" y2="500.40" stroke="#222" stroke-width="0.9" />
<line x1="428.85" y1="497.00" x2="428.85" y2="500.40" stroke="#222" stroke-width="0.9" />
<line x1="430.08" y1="497.00" x2="430.08" y2="500.40" stroke="#222" stroke-width="0.9" />
<line x1="431.18" y1="497.00" x2="431.18" y2="501.20" stroke="#222" stroke-width="0.9" />
<line x1="438.40" y1="497.00" x2="438.40" y2="500.40" stroke="#222" stroke-width="0.9" />
<line x1="442.62" y1="497.00" x2="442.62" y2="500.40" stroke="#222" stroke-width="0.9" />
<line x1="445.61" y1="497.00" x2="445.61" y2="500.40" stroke="#222" stroke-width="0.9" />
<line x1="447.94" y1="497.00" x2="447.94" y2="500.40" stroke="#222" stroke-width="0.9" />
<line x1="449.84" y1="497.00" x2="449.84" y2="500.40" stroke="#222" stroke-width="0.9" />
<line x1="451.44" y1="497.00" x2="451.44" y2="500.40" stroke="#222" stroke-width="0.9" />
<line x1="452.83" y1="497.00" x2="452.83" y2="500.40" stroke="#222" stroke-width="0.9" />
<line x1="454.06" y1="497.00" x2="454.06" y2="500.40" stroke="#222" stroke-width="0.9" />
<line x1="455.16" y1="497.00" x2="455.16" y2="501.20" stroke="#222" stroke-width="0.9" />
<line x1="462.37" y1="497.00" x2="462.37" y2="500.40" stroke="#222" stroke-width="0.9" />
<line x1="466.60" y1="497.00" x2="466.60" y2="500.40" stroke="#222" stroke-width="0.9" />
<line x1="469.59" y1="497.00" x2="469.59" y2="500.40" stroke="#222" stroke-width="0.9" />
<line x1="471.92" y1="497.00" x2="471.92" y2="500.40" stroke="#222" stroke-width="0.9" />
<line x1="473.82" y1="497.00" x2="473.82" y2="500.40" stroke="#222" stroke-width="0.9" />
<line x1="475.42" y1="497.00" x2="475.42" y2="500.40" stroke="#222" stroke-width="0.9" />
<line x1="476.81" y1="497.00" x2="476.81" y2="500.40" stroke="#222" stroke-width="0.9" />
<line x1="478.04" y1="497.00" x2="478.04" y2="500.40" stroke="#222" stroke-width="0.9" />
<line x1="479.13" y1="497.00" x2="479.13" y2="501.20" stroke="#222" stroke-width="0.9" />
<line x1="486.35" y1="497.00" x2="486.35" y2="500.40" stroke="#222" stroke-width="0.9" />
<line x1="490.58" y1="497.00" x2="490.58" y2="500.40" stroke="#222" stroke-width="0.9" />
<line x1="493.57" y1="497.00" x2="493.57" y2="500.40" stroke="#222" stroke-width="0.9" />
<line x1="495.89" y1="497.00" x2="495.89" y2="500.40" stroke="#222" stroke-width="0.9" />
<line x1="497.79" y1="497.00" x2="497.79" y2="500.40" stroke="#222" stroke-width="0.9" />
<line x1="499.40" y1="497.00" x2="499.40" y2="500.40" stroke="#222" stroke-width="0.9" />
<line x1="500.79" y1="497.00" x2="500.79" y2="500.40" stroke="#222" stroke-width="0.9" />
<line x1="502.02" y1="497.00" x2="502.02" y2="500.40" stroke="#222" stroke-width="0.9" />
<line x1="503.11" y1="497.00" x2="503.11" y2="501.20" stroke="#222" stroke-width="0.9" />
<line x1="510.33" y1="497.00" x2="510.33" y2="500.40" stroke="#222" stroke-width="0.9" />
<line x1="406.20" y1="498.90" x2="514.50" y2="498.90" stroke="#555" stroke-width="2.6" stroke-dasharray="0.9,2.1"/>
<rect x="250" y="382" width="86" height="40.5" fill="#fff"/>
<line x1="254.60" y1="390.80" x2="274.60" y2="390.80" stroke="#b8b8b8" stroke-width="1.8" />
<line x1="254.60" y1="402.50" x2="274.60" y2="402.50" stroke="#000" stroke-width="2.0" />
<line x1="254.60" y1="414.80" x2="274.60" y2="414.80" stroke="#777" stroke-width="1.8" stroke-dasharray="4,3.6"/>
<text x="277" y="394.4" font-size="10.2" text-anchor="start" font-weight="normal" fill="#111" style='font-family:"Liberation Sans", sans-serif'>WT</text>
<text x="277" y="406.1" font-size="10.2" text-anchor="start" font-weight="normal" fill="#111" style='font-family:"Liberation Sans", sans-serif'>Y145F</text>
<text x="277" y="418.4" font-size="10.2" text-anchor="start" font-weight="normal" fill="#111" textLength="49" lengthAdjust="spacingAndGlyphs" style='font-family:"Liberation Sans", sans-serif'>Y112/128F</text>
<text x="158" y="384" font-size="10.3" text-anchor="middle" font-weight="normal" fill="#111" textLength="51.5" lengthAdjust="spacingAndGlyphs" style='font-family:"Liberation Sans", sans-serif'>DAY 15 p.i.</text>
<text x="399" y="385.4" font-size="10.3" text-anchor="middle" font-weight="normal" fill="#111" textLength="51.5" lengthAdjust="spacingAndGlyphs" style='font-family:"Liberation Sans", sans-serif'>DAY 70 p.i.</text>
<text x="32.6" y="447.4" font-size="10.8" text-anchor="middle" font-weight="normal" fill="#111" transform="rotate(-90 32.6 447.4)" textLength="70" lengthAdjust="spacingAndGlyphs" style='font-family:"Liberation Sans", sans-serif'>Percent of Max</text>
<line x1="60.80" y1="510.20" x2="103.30" y2="510.20" stroke="#000" stroke-width="2.1" />
<polygon points="101.7,506.3 109.3,510.2 101.7,514.1" fill="#000"/>
<line x1="183.10" y1="511.20" x2="240.60" y2="511.20" stroke="#000" stroke-width="2.1" />
<polygon points="239.0,507.3 246.6,511.2 239.0,515.1" fill="#000"/>
<line x1="295.00" y1="511.20" x2="337.50" y2="511.20" stroke="#000" stroke-width="2.1" />
<polygon points="335.9,507.3 343.5,511.2 335.9,515.1" fill="#000"/>
<line x1="418.00" y1="512.30" x2="475.30" y2="512.30" stroke="#000" stroke-width="2.1" />
<polygon points="473.7,508.4 481.3,512.3 473.7,516.1999999999999" fill="#000"/>
<text x="62.5" y="524.5" font-size="10.4" text-anchor="start" font-weight="normal" fill="#111" textLength="26.5" lengthAdjust="spacingAndGlyphs" style='font-family:"Liberation Sans", sans-serif'>CD27</text>
<text x="185" y="526.8" font-size="10.4" text-anchor="start" font-weight="normal" fill="#111" textLength="35.5" lengthAdjust="spacingAndGlyphs" style='font-family:"Liberation Sans", sans-serif'>CXCR3</text>
<text x="296.6" y="525.6" font-size="10.4" text-anchor="start" font-weight="normal" fill="#111" textLength="26.5" lengthAdjust="spacingAndGlyphs" style='font-family:"Liberation Sans", sans-serif'>CD27</text>
<text x="420.3" y="528.4" font-size="10.4" text-anchor="start" font-weight="normal" fill="#111" textLength="35.5" lengthAdjust="spacingAndGlyphs" style='font-family:"Liberation Sans", sans-serif'>CXCR3</text>
</svg></body></html>
